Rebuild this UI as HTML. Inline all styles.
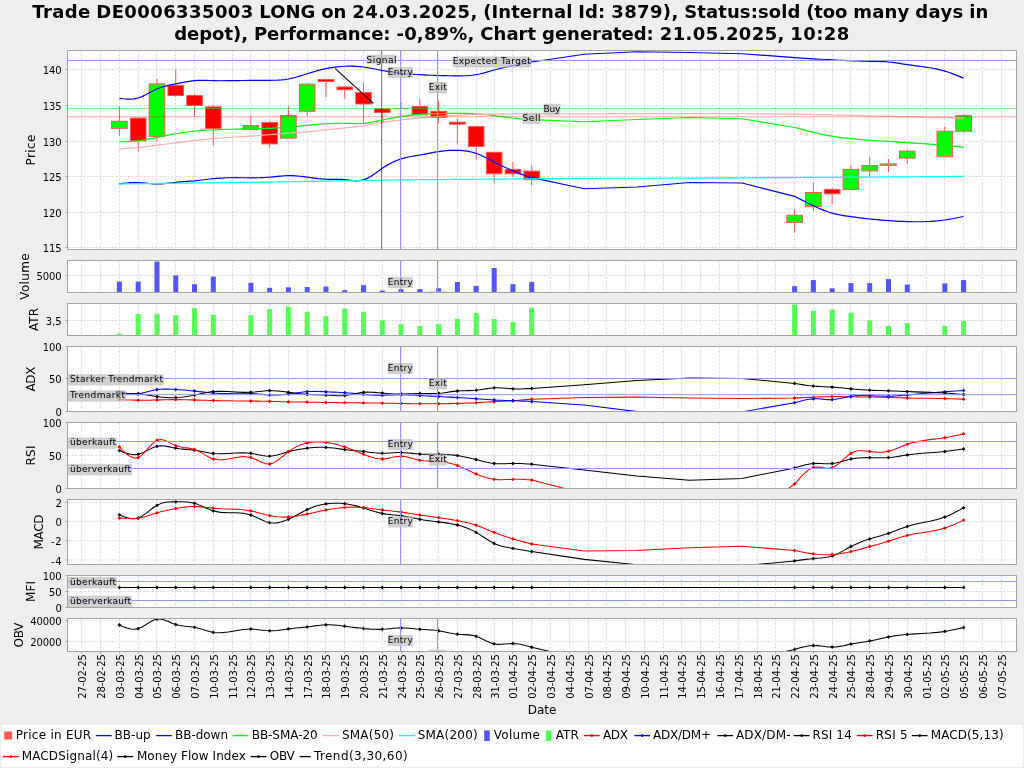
<!DOCTYPE html>
<html lang="de"><head><meta charset="utf-8"><title>Trade DE0006335003 LONG</title>
<style>html,body{margin:0;padding:0;background:#eeeeee;}svg{display:block;}</style></head>
<body>
<svg width="1024" height="768" viewBox="0 0 1024 768" font-family="'DejaVu Sans','Liberation Sans',sans-serif" fill="#000">
<defs>
<clipPath id="c_price"><rect x="67.5" y="50.5" width="949.0" height="199.0"/></clipPath>
<clipPath id="c_vol"><rect x="67.5" y="260.5" width="949.0" height="32.0"/></clipPath>
<clipPath id="c_atr"><rect x="67.5" y="303.5" width="949.0" height="32.0"/></clipPath>
<clipPath id="c_adx"><rect x="67.5" y="346.5" width="949.0" height="65.0"/></clipPath>
<clipPath id="c_rsi"><rect x="67.5" y="422.5" width="949.0" height="66.0"/></clipPath>
<clipPath id="c_macd"><rect x="67.5" y="499.5" width="949.0" height="65.0"/></clipPath>
<clipPath id="c_mfi"><rect x="67.5" y="575.5" width="949.0" height="32.0"/></clipPath>
<clipPath id="c_obv"><rect x="67.5" y="618.5" width="949.0" height="33.0"/></clipPath>
</defs>
<rect width="1024" height="768" fill="#eeeeee"/>
<text x="32.3" y="18" font-size="18" font-weight="bold" textLength="58" lengthAdjust="spacing">Trade</text>
<text x="96.3" y="18" font-size="18" font-weight="bold" textLength="157" lengthAdjust="spacing">DE0006335003</text>
<text x="259.3" y="18" font-size="18" font-weight="bold" textLength="56" lengthAdjust="spacing">LONG</text>
<text x="321.3" y="18" font-size="18" font-weight="bold" textLength="25" lengthAdjust="spacing">on</text>
<text x="352.3" y="18" font-size="18" font-weight="bold" textLength="125" lengthAdjust="spacing">24.03.2025,</text>
<text x="483.3" y="18" font-size="18" font-weight="bold" textLength="89" lengthAdjust="spacing">(Internal</text>
<text x="578.3" y="18" font-size="18" font-weight="bold" textLength="27" lengthAdjust="spacing">Id:</text>
<text x="611.3" y="18" font-size="18" font-weight="bold" textLength="67" lengthAdjust="spacing">3879),</text>
<text x="684.3" y="18" font-size="18" font-weight="bold" textLength="116" lengthAdjust="spacing">Status:sold</text>
<text x="806.3" y="18" font-size="18" font-weight="bold" textLength="41" lengthAdjust="spacing">(too</text>
<text x="853.3" y="18" font-size="18" font-weight="bold" textLength="56" lengthAdjust="spacing">many</text>
<text x="915.3" y="18" font-size="18" font-weight="bold" textLength="48" lengthAdjust="spacing">days</text>
<text x="969.3" y="18" font-size="18" font-weight="bold" textLength="19" lengthAdjust="spacing">in</text>
<text x="174.2" y="40" font-size="18" font-weight="bold" textLength="73.78" lengthAdjust="spacing">depot),</text>
<text x="253.96" y="40" font-size="18" font-weight="bold" textLength="136.6" lengthAdjust="spacing">Performance:</text>
<text x="396.54" y="40" font-size="18" font-weight="bold" textLength="77.77" lengthAdjust="spacing">-0,89%,</text>
<text x="480.29" y="40" font-size="18" font-weight="bold" textLength="55.83" lengthAdjust="spacing">Chart</text>
<text x="542.11" y="40" font-size="18" font-weight="bold" textLength="111.67" lengthAdjust="spacing">generated:</text>
<text x="659.76" y="40" font-size="18" font-weight="bold" textLength="124.63" lengthAdjust="spacing">21.05.2025,</text>
<text x="790.37" y="40" font-size="18" font-weight="bold" textLength="58.83" lengthAdjust="spacing">10:28</text>
<rect x="67.5" y="50.5" width="949.0" height="199.0" fill="#fff"/>
<path d="M81.5 50.5 V249.5 M100.5 50.5 V249.5 M119.5 50.5 V249.5 M138.5 50.5 V249.5 M156.5 50.5 V249.5 M175.5 50.5 V249.5 M194.5 50.5 V249.5 M213.5 50.5 V249.5 M232.5 50.5 V249.5 M250.5 50.5 V249.5 M269.5 50.5 V249.5 M288.5 50.5 V249.5 M307.5 50.5 V249.5 M325.5 50.5 V249.5 M344.5 50.5 V249.5 M363.5 50.5 V249.5 M382.5 50.5 V249.5 M401.5 50.5 V249.5 M419.5 50.5 V249.5 M438.5 50.5 V249.5 M457.5 50.5 V249.5 M476.5 50.5 V249.5 M494.5 50.5 V249.5 M512.5 50.5 V249.5 M531.5 50.5 V249.5 M550.5 50.5 V249.5 M569.5 50.5 V249.5 M588.5 50.5 V249.5 M606.5 50.5 V249.5 M625.5 50.5 V249.5 M644.5 50.5 V249.5 M663.5 50.5 V249.5 M681.5 50.5 V249.5 M700.5 50.5 V249.5 M719.5 50.5 V249.5 M738.5 50.5 V249.5 M757.5 50.5 V249.5 M775.5 50.5 V249.5 M794.5 50.5 V249.5 M813.5 50.5 V249.5 M832.5 50.5 V249.5 M850.5 50.5 V249.5 M869.5 50.5 V249.5 M888.5 50.5 V249.5 M907.5 50.5 V249.5 M926.5 50.5 V249.5 M944.5 50.5 V249.5 M963.5 50.5 V249.5 M982.5 50.5 V249.5 M1001.5 50.5 V249.5 " stroke="#d4d4d4" stroke-width="1" stroke-dasharray="2 2" fill="none"/>
<path d="M67.5 69.5 H1016.5 M67.5 105.5 H1016.5 M67.5 141.5 H1016.5 M67.5 176.5 H1016.5 M67.5 212.5 H1016.5 M67.5 247.5 H1016.5 " stroke="#d4d4d4" stroke-width="1" stroke-dasharray="2 2" fill="none"/>
<g clip-path="url(#c_price)">
<path d="M119.41 106.1 V121.25" stroke="#ff5555" stroke-width="1"/>
<path d="M119.41 128.4 V135.8" stroke="#ff5555" stroke-width="1"/>
<rect x="111.61" y="121.25" width="15.6" height="7.15" fill="#00ff00" stroke="#ff5555" stroke-width="1"/>
<path d="M138.19 140.9 V151.4" stroke="#ff5555" stroke-width="1"/>
<rect x="130.39" y="118.1" width="15.6" height="22.8" fill="#ff0000" stroke="#ff5555" stroke-width="1"/>
<path d="M156.97 79 V83.9" stroke="#ff5555" stroke-width="1"/>
<path d="M156.97 136.6 V141.6" stroke="#ff5555" stroke-width="1"/>
<rect x="149.17" y="83.9" width="15.6" height="52.7" fill="#00ff00" stroke="#ff5555" stroke-width="1"/>
<path d="M175.75 69.4 V85.3" stroke="#ff5555" stroke-width="1"/>
<path d="M175.75 95.5 V97" stroke="#ff5555" stroke-width="1"/>
<rect x="167.94" y="85.3" width="15.6" height="10.2" fill="#ff0000" stroke="#ff5555" stroke-width="1"/>
<path d="M194.52 93.6 V95.5" stroke="#ff5555" stroke-width="1"/>
<path d="M194.52 105.5 V117" stroke="#ff5555" stroke-width="1"/>
<rect x="186.72" y="95.5" width="15.6" height="10" fill="#ff0000" stroke="#ff5555" stroke-width="1"/>
<path d="M213.3 105.3 V106.9" stroke="#ff5555" stroke-width="1"/>
<path d="M213.3 128.4 V145.6" stroke="#ff5555" stroke-width="1"/>
<rect x="205.5" y="106.9" width="15.6" height="21.5" fill="#ff0000" stroke="#ff5555" stroke-width="1"/>
<path d="M250.85 116.25 V125.6" stroke="#ff5555" stroke-width="1"/>
<rect x="243.05" y="125.6" width="15.6" height="3.9" fill="#00ff00" stroke="#ff5555" stroke-width="1"/>
<path d="M269.63 121 V122.5" stroke="#ff5555" stroke-width="1"/>
<path d="M269.63 143.9 V147.2" stroke="#ff5555" stroke-width="1"/>
<rect x="261.83" y="122.5" width="15.6" height="21.4" fill="#ff0000" stroke="#ff5555" stroke-width="1"/>
<path d="M288.41 106.1 V115.6" stroke="#ff5555" stroke-width="1"/>
<rect x="280.61" y="115.6" width="15.6" height="22.5" fill="#00ff00" stroke="#ff5555" stroke-width="1"/>
<path d="M307.18 111.25 V116" stroke="#ff5555" stroke-width="1"/>
<rect x="299.38" y="84.2" width="15.6" height="27.05" fill="#00ff00" stroke="#ff5555" stroke-width="1"/>
<path d="M325.96 81.5 V97.2" stroke="#ff5555" stroke-width="1"/>
<rect x="318.16" y="79.5" width="15.6" height="2" fill="#ff0000" stroke="#ff5555" stroke-width="1"/>
<path d="M344.74 85.8 V87" stroke="#ff5555" stroke-width="1"/>
<path d="M344.74 89.7 V98.75" stroke="#ff5555" stroke-width="1"/>
<rect x="336.94" y="87" width="15.6" height="2.7" fill="#ff0000" stroke="#ff5555" stroke-width="1"/>
<path d="M363.52 82.3 V92.5" stroke="#ff5555" stroke-width="1"/>
<path d="M363.52 104 V124" stroke="#ff5555" stroke-width="1"/>
<rect x="355.72" y="92.5" width="15.6" height="11.5" fill="#ff0000" stroke="#ff5555" stroke-width="1"/>
<path d="M382.29 112.5 V124" stroke="#ff5555" stroke-width="1"/>
<rect x="374.49" y="108.75" width="15.6" height="3.75" fill="#ff0000" stroke="#ff5555" stroke-width="1"/>
<path d="M401.07 102.3 V108.6" stroke="#ff5555" stroke-width="1"/>
<path d="M393.27 108.6 H408.87" stroke="#ff5555" stroke-width="1"/>
<path d="M419.85 98.4 V106.6" stroke="#ff5555" stroke-width="1"/>
<rect x="412.05" y="106.6" width="15.6" height="8.2" fill="#ff0000" stroke="#ff5555" stroke-width="1"/>
<path d="M438.62 100.8 V111.25" stroke="#ff5555" stroke-width="1"/>
<path d="M438.62 117.2 V122.7" stroke="#ff5555" stroke-width="1"/>
<rect x="430.82" y="111.25" width="15.6" height="5.95" fill="#ff0000" stroke="#ff5555" stroke-width="1"/>
<path d="M457.4 118.75 V122.2" stroke="#ff5555" stroke-width="1"/>
<path d="M457.4 124.2 V144.5" stroke="#ff5555" stroke-width="1"/>
<rect x="449.6" y="122.2" width="15.6" height="2" fill="#ff0000" stroke="#ff5555" stroke-width="1"/>
<path d="M476.18 146.5 V159.5" stroke="#ff5555" stroke-width="1"/>
<rect x="468.38" y="126.6" width="15.6" height="19.9" fill="#ff0000" stroke="#ff5555" stroke-width="1"/>
<path d="M494.17 173.75 V182.8" stroke="#ff5555" stroke-width="1"/>
<rect x="486.37" y="152.3" width="15.6" height="21.45" fill="#ff0000" stroke="#ff5555" stroke-width="1"/>
<path d="M512.95 162 V169.4" stroke="#ff5555" stroke-width="1"/>
<path d="M512.95 173.75 V176.9" stroke="#ff5555" stroke-width="1"/>
<rect x="505.15" y="169.4" width="15.6" height="4.35" fill="#ff0000" stroke="#ff5555" stroke-width="1"/>
<path d="M531.73 165.2 V171.1" stroke="#ff5555" stroke-width="1"/>
<path d="M531.73 179.7 V185.5" stroke="#ff5555" stroke-width="1"/>
<rect x="523.93" y="171.1" width="15.6" height="8.6" fill="#ff0000" stroke="#ff5555" stroke-width="1"/>
<path d="M794.6 208.9 V215.2" stroke="#ff5555" stroke-width="1"/>
<path d="M794.6 222.5 V232.8" stroke="#ff5555" stroke-width="1"/>
<rect x="786.8" y="215.2" width="15.6" height="7.3" fill="#00ff00" stroke="#ff5555" stroke-width="1"/>
<path d="M813.38 182.3 V192.5" stroke="#ff5555" stroke-width="1"/>
<path d="M813.38 206.6 V211.25" stroke="#ff5555" stroke-width="1"/>
<rect x="805.58" y="192.5" width="15.6" height="14.1" fill="#00ff00" stroke="#ff5555" stroke-width="1"/>
<path d="M832.16 187.8 V189.4" stroke="#ff5555" stroke-width="1"/>
<path d="M832.16 193.75 V204.2" stroke="#ff5555" stroke-width="1"/>
<rect x="824.36" y="189.4" width="15.6" height="4.35" fill="#ff0000" stroke="#ff5555" stroke-width="1"/>
<path d="M850.93 165.2 V169.4" stroke="#ff5555" stroke-width="1"/>
<rect x="843.13" y="169.4" width="15.6" height="20" fill="#00ff00" stroke="#ff5555" stroke-width="1"/>
<path d="M869.71 156.6 V165.6" stroke="#ff5555" stroke-width="1"/>
<path d="M869.71 170.9 V176.6" stroke="#ff5555" stroke-width="1"/>
<rect x="861.91" y="165.6" width="15.6" height="5.3" fill="#00ff00" stroke="#ff5555" stroke-width="1"/>
<path d="M888.49 158.9 V163.9" stroke="#ff5555" stroke-width="1"/>
<path d="M888.49 165.3 V171.9" stroke="#ff5555" stroke-width="1"/>
<rect x="880.69" y="163.9" width="15.6" height="1.4" fill="#00ff00" stroke="#ff5555" stroke-width="1"/>
<path d="M907.27 149.5 V151.1" stroke="#ff5555" stroke-width="1"/>
<path d="M907.27 158.1 V164" stroke="#ff5555" stroke-width="1"/>
<rect x="899.47" y="151.1" width="15.6" height="7" fill="#00ff00" stroke="#ff5555" stroke-width="1"/>
<path d="M944.82 126.6 V131.25" stroke="#ff5555" stroke-width="1"/>
<rect x="937.02" y="131.25" width="15.6" height="25.45" fill="#00ff00" stroke="#ff5555" stroke-width="1"/>
<path d="M963.6 113.75 V115.6" stroke="#ff5555" stroke-width="1"/>
<path d="M963.6 131.25 V132.8" stroke="#ff5555" stroke-width="1"/>
<rect x="955.8" y="115.6" width="15.6" height="15.65" fill="#00ff00" stroke="#ff5555" stroke-width="1"/>
<path d="M119.41 98.3 L123.17 98.75 L126.92 99.07 L130.68 99.13 L134.44 98.82 L138.19 98 L141.95 96.6 L145.7 94.79 L149.46 92.76 L153.21 90.72 L156.97 88.9 L160.72 87.44 L164.48 86.31 L168.23 85.41 L171.99 84.64 L175.75 83.9 L179.5 83.13 L183.26 82.36 L187.01 81.64 L190.77 81.04 L194.52 80.6 L198.28 80.37 L202.03 80.31 L205.79 80.36 L209.54 80.48 L213.3 80.6 L220.81 80.73 L228.32 80.72 L235.83 80.63 L243.34 80.5 L250.85 80.4 L254.61 80.37 L258.36 80.35 L262.12 80.34 L265.87 80.32 L269.63 80.3 L273.39 80.25 L277.14 80.14 L280.9 79.93 L284.65 79.56 L288.41 79 L292.16 78.21 L295.92 77.24 L299.67 76.13 L303.43 74.95 L307.18 73.75 L310.94 72.58 L314.69 71.45 L318.45 70.4 L322.21 69.45 L325.96 68.6 L329.72 67.88 L333.47 67.29 L337.23 66.82 L340.98 66.48 L344.74 66.25 L348.49 66.14 L352.25 66.16 L356 66.3 L359.76 66.58 L363.52 67 L367.27 67.56 L371.03 68.24 L374.78 68.98 L378.54 69.74 L382.29 70.5 L386.05 71.21 L389.8 71.86 L393.56 72.45 L397.31 72.96 L401.07 73.4 L404.82 73.76 L408.58 74.06 L412.34 74.3 L416.09 74.51 L419.85 74.7 L423.6 74.88 L427.36 75.06 L431.11 75.23 L434.87 75.37 L438.62 75.5 L442.38 75.6 L446.13 75.68 L449.89 75.74 L453.64 75.78 L457.4 75.8 L461.16 75.8 L464.91 75.73 L468.67 75.56 L472.42 75.23 L476.18 74.7 L479.78 73.97 L483.37 73.08 L486.97 72.07 L490.57 71.03 L494.17 70 L497.93 69 L501.68 68.07 L505.44 67.21 L509.19 66.39 L512.95 65.6 L516.7 64.84 L520.46 64.09 L524.21 63.37 L527.97 62.67 L531.73 62 L584.3 54.25 L636.88 51.75 L689.45 52.5 L742.03 53.75 L794.6 57.6 L798.36 57.84 L802.11 58.08 L805.87 58.32 L809.63 58.56 L813.38 58.8 L817.14 59.04 L820.89 59.27 L824.65 59.49 L828.4 59.7 L832.16 59.9 L835.91 60.08 L839.67 60.25 L843.42 60.41 L847.18 60.55 L850.93 60.7 L854.69 60.84 L858.45 60.98 L862.2 61.1 L865.96 61.21 L869.71 61.3 L873.47 61.37 L877.22 61.44 L880.98 61.54 L884.73 61.72 L888.49 62 L892.24 62.4 L896 62.9 L899.75 63.46 L903.51 64.04 L907.27 64.6 L914.78 65.61 L922.29 66.6 L929.8 67.72 L937.31 69.16 L944.82 71.1 L948.58 72.3 L952.33 73.63 L956.09 75.07 L959.84 76.57 L963.6 78.1" fill="none" stroke="#0000ff" stroke-width="1.2" stroke-linejoin="round"/>
<path d="M119.41 183.9 L123.17 183.42 L126.92 183 L130.68 182.67 L134.44 182.49 L138.19 182.5 L141.95 182.73 L145.7 183.1 L149.46 183.51 L153.21 183.84 L156.97 184 L160.72 183.91 L164.48 183.61 L168.23 183.19 L171.99 182.73 L175.75 182.3 L179.5 181.97 L183.26 181.71 L187.01 181.47 L190.77 181.22 L194.52 180.9 L198.28 180.49 L202.03 180.01 L205.79 179.51 L209.54 179.02 L213.3 178.6 L220.81 178.03 L228.32 177.76 L235.83 177.7 L243.34 177.75 L250.85 177.8 L254.61 177.8 L258.36 177.75 L262.12 177.65 L265.87 177.47 L269.63 177.2 L273.39 176.84 L277.14 176.43 L280.9 176.04 L284.65 175.75 L288.41 175.6 L292.16 175.65 L295.92 175.88 L299.67 176.24 L303.43 176.7 L307.18 177.2 L310.94 177.71 L314.69 178.2 L318.45 178.63 L322.21 178.97 L325.96 179.2 L329.72 179.3 L333.47 179.32 L337.23 179.34 L340.98 179.45 L344.74 179.7 L348.49 180.13 L352.25 180.58 L356 180.83 L359.76 180.68 L363.52 179.9 L367.27 178.36 L371.03 176.21 L374.78 173.67 L378.54 170.96 L382.29 168.3 L386.05 165.87 L389.8 163.72 L393.56 161.84 L397.31 160.23 L401.07 158.9 L404.82 157.84 L408.58 156.99 L412.34 156.27 L416.09 155.64 L419.85 155 L423.6 154.32 L427.36 153.6 L431.11 152.89 L434.87 152.21 L438.62 151.6 L442.38 151.09 L446.13 150.7 L449.89 150.43 L453.64 150.29 L457.4 150.3 L461.16 150.47 L464.91 150.82 L468.67 151.41 L472.42 152.25 L476.18 153.4 L479.78 154.8 L483.37 156.43 L486.97 158.22 L490.57 160.1 L494.17 162 L497.93 163.93 L501.68 165.78 L505.44 167.57 L509.19 169.28 L512.95 170.9 L516.7 172.44 L520.46 173.89 L524.21 175.25 L527.97 176.52 L531.73 177.7 L584.3 188.75 L636.88 187 L689.45 182.5 L742.03 183 L794.6 196.4 L798.36 198.23 L802.11 200.13 L805.87 202.05 L809.63 203.96 L813.38 205.8 L817.14 207.54 L820.89 209.16 L824.65 210.63 L828.4 211.95 L832.16 213.1 L835.91 214.07 L839.67 214.88 L843.42 215.56 L847.18 216.16 L850.93 216.7 L854.69 217.21 L858.45 217.7 L862.2 218.16 L865.96 218.6 L869.71 219 L873.47 219.37 L877.22 219.72 L880.98 220.03 L884.73 220.33 L888.49 220.6 L892.24 220.85 L896 221.08 L899.75 221.29 L903.51 221.46 L907.27 221.6 L914.78 221.76 L922.29 221.73 L929.8 221.46 L937.31 220.9 L944.82 220 L948.58 219.41 L952.33 218.75 L956.09 218.03 L959.84 217.28 L963.6 216.5" fill="none" stroke="#0000ff" stroke-width="1.2" stroke-linejoin="round"/>
<path d="M119.41 141.6 L123.17 141.58 L126.92 141.52 L130.68 141.39 L134.44 141.16 L138.19 140.8 L141.95 140.28 L145.7 139.63 L149.46 138.89 L153.21 138.1 L156.97 137.3 L160.72 136.53 L164.48 135.79 L168.23 135.08 L171.99 134.4 L175.75 133.75 L179.5 133.13 L183.26 132.55 L187.01 132.01 L190.77 131.52 L194.52 131.1 L198.28 130.74 L202.03 130.44 L205.79 130.19 L209.54 129.98 L213.3 129.8 L220.81 129.49 L228.32 129.25 L235.83 129.06 L243.34 128.89 L250.85 128.75 L254.61 128.68 L258.36 128.61 L262.12 128.52 L265.87 128.42 L269.63 128.3 L273.39 128.15 L277.14 127.97 L280.9 127.75 L284.65 127.5 L288.41 127.2 L292.16 126.86 L295.92 126.48 L299.67 126.09 L303.43 125.69 L307.18 125.3 L310.94 124.93 L314.69 124.59 L318.45 124.27 L322.21 123.99 L325.96 123.75 L329.72 123.55 L333.47 123.4 L337.23 123.3 L340.98 123.27 L344.74 123.3 L348.49 123.39 L352.25 123.5 L356 123.56 L359.76 123.51 L363.52 123.3 L367.27 122.88 L371.03 122.29 L374.78 121.57 L378.54 120.79 L382.29 120 L386.05 119.24 L389.8 118.51 L393.56 117.83 L397.31 117.2 L401.07 116.6 L404.82 116.05 L408.58 115.55 L412.34 115.1 L416.09 114.72 L419.85 114.4 L423.6 114.15 L427.36 113.96 L431.11 113.81 L434.87 113.7 L438.62 113.6 L442.38 113.51 L446.13 113.44 L449.89 113.37 L453.64 113.33 L457.4 113.3 L461.16 113.3 L464.91 113.33 L468.67 113.41 L472.42 113.55 L476.18 113.75 L479.78 114.02 L483.37 114.35 L486.97 114.73 L490.57 115.15 L494.17 115.6 L497.93 116.09 L501.68 116.58 L505.44 117.08 L509.19 117.55 L512.95 118 L516.7 118.41 L520.46 118.79 L524.21 119.12 L527.97 119.43 L531.73 119.7 L584.3 121.75 L636.88 119.5 L689.45 117.5 L742.03 118.75 L794.6 127.5 L798.36 128.43 L802.11 129.4 L805.87 130.38 L809.63 131.35 L813.38 132.3 L817.14 133.21 L820.89 134.07 L824.65 134.87 L828.4 135.6 L832.16 136.25 L835.91 136.82 L839.67 137.32 L843.42 137.78 L847.18 138.2 L850.93 138.6 L854.69 139 L858.45 139.4 L862.2 139.77 L865.96 140.11 L869.71 140.4 L873.47 140.64 L877.22 140.84 L880.98 141.02 L884.73 141.2 L888.49 141.4 L892.24 141.63 L896 141.89 L899.75 142.16 L903.51 142.43 L907.27 142.7 L914.78 143.2 L922.29 143.66 L929.8 144.14 L937.31 144.67 L944.82 145.3 L948.58 145.66 L952.33 146.05 L956.09 146.45 L959.84 146.87 L963.6 147.3" fill="none" stroke="#00ff00" stroke-width="1.2" stroke-linejoin="round"/>
<path d="M119.41 149 L123.17 148.74 L126.92 148.47 L130.68 148.18 L134.44 147.86 L138.19 147.5 L141.95 147.09 L145.7 146.65 L149.46 146.18 L153.21 145.69 L156.97 145.2 L160.72 144.71 L164.48 144.23 L168.23 143.75 L171.99 143.27 L175.75 142.8 L179.5 142.33 L183.26 141.86 L187.01 141.39 L190.77 140.94 L194.52 140.5 L198.28 140.08 L202.03 139.67 L205.79 139.29 L209.54 138.93 L213.3 138.6 L220.81 138.01 L228.32 137.49 L235.83 137.02 L243.34 136.57 L250.85 136.1 L254.61 135.85 L258.36 135.59 L262.12 135.31 L265.87 135.01 L269.63 134.7 L273.39 134.37 L277.14 134.03 L280.9 133.69 L284.65 133.38 L288.41 133.1 L292.16 132.86 L295.92 132.65 L299.67 132.44 L303.43 132.19 L307.18 131.9 L310.94 131.54 L314.69 131.12 L318.45 130.68 L322.21 130.23 L325.96 129.8 L329.72 129.41 L333.47 129.05 L337.23 128.71 L340.98 128.36 L344.74 128 L348.49 127.6 L352.25 127.17 L356 126.69 L359.76 126.17 L363.52 125.6 L367.27 124.98 L371.03 124.33 L374.78 123.67 L378.54 123.02 L382.29 122.4 L386.05 121.82 L389.8 121.29 L393.56 120.8 L397.31 120.33 L401.07 119.9 L404.82 119.49 L408.58 119.1 L412.34 118.72 L416.09 118.36 L419.85 118 L423.6 117.65 L427.36 117.31 L431.11 116.99 L434.87 116.68 L438.62 116.4 L442.38 116.15 L446.13 115.92 L449.89 115.7 L453.64 115.5 L457.4 115.3 L461.16 115.1 L464.91 114.9 L468.67 114.72 L472.42 114.55 L476.18 114.4 L479.78 114.29 L483.37 114.2 L486.97 114.12 L490.57 114.06 L494.17 114 L497.93 113.94 L501.68 113.88 L505.44 113.83 L509.19 113.78 L512.95 113.75 L516.7 113.73 L520.46 113.73 L524.21 113.73 L527.97 113.74 L531.73 113.75 L584.3 113.78 L636.88 113.68 L689.45 113.6 L742.03 113.72 L794.6 114.2 L798.36 114.25 L802.11 114.31 L805.87 114.37 L809.63 114.43 L813.38 114.5 L817.14 114.58 L820.89 114.65 L824.65 114.74 L828.4 114.82 L832.16 114.9 L835.91 114.98 L839.67 115.05 L843.42 115.13 L847.18 115.21 L850.93 115.3 L854.69 115.39 L858.45 115.49 L862.2 115.59 L865.96 115.7 L869.71 115.8 L873.47 115.9 L877.22 116 L880.98 116.1 L884.73 116.2 L888.49 116.3 L892.24 116.4 L896 116.51 L899.75 116.61 L903.51 116.71 L907.27 116.8 L914.78 116.96 L922.29 117.11 L929.8 117.26 L937.31 117.41 L944.82 117.6 L948.58 117.71 L952.33 117.82 L956.09 117.95 L959.84 118.07 L963.6 118.2" fill="none" stroke="#ffafaf" stroke-width="1.2" stroke-linejoin="round"/>
<path d="M119.41 183.9 L123.17 183.86 L126.92 183.81 L130.68 183.77 L134.44 183.72 L138.19 183.68 L141.95 183.64 L145.7 183.59 L149.46 183.55 L153.21 183.5 L156.97 183.46 L160.72 183.41 L164.48 183.37 L168.23 183.32 L171.99 183.28 L175.75 183.24 L179.5 183.19 L183.26 183.15 L187.01 183.1 L190.77 183.06 L194.52 183.01 L198.28 182.97 L202.03 182.92 L205.79 182.88 L209.54 182.84 L213.3 182.79 L220.81 182.71 L228.32 182.63 L235.83 182.54 L243.34 182.45 L250.85 182.35 L254.61 182.29 L258.36 182.24 L262.12 182.18 L265.87 182.12 L269.63 182.06 L273.39 182 L277.14 181.93 L280.9 181.87 L284.65 181.81 L288.41 181.75 L292.16 181.68 L295.92 181.62 L299.67 181.56 L303.43 181.5 L307.18 181.44 L310.94 181.37 L314.69 181.31 L318.45 181.25 L322.21 181.19 L325.96 181.13 L329.72 181.06 L333.47 181 L337.23 180.94 L340.98 180.88 L344.74 180.81 L348.49 180.75 L352.25 180.69 L356 180.63 L359.76 180.57 L363.52 180.5 L367.27 180.44 L371.03 180.38 L374.78 180.32 L378.54 180.26 L382.29 180.19 L386.05 180.13 L389.8 180.06 L393.56 180 L397.31 179.94 L401.07 179.89 L404.82 179.85 L408.58 179.82 L412.34 179.79 L416.09 179.76 L419.85 179.74 L423.6 179.71 L427.36 179.68 L431.11 179.65 L434.87 179.61 L438.62 179.58 L442.38 179.55 L446.13 179.52 L449.89 179.49 L453.64 179.46 L457.4 179.43 L461.16 179.4 L464.91 179.37 L468.67 179.34 L472.42 179.31 L476.18 179.27 L479.78 179.24 L483.37 179.22 L486.97 179.19 L490.57 179.16 L494.17 179.13 L497.93 179.1 L501.68 179.06 L505.44 179.03 L509.19 179 L512.95 178.97 L516.7 178.94 L520.46 178.91 L524.21 178.88 L527.97 178.85 L531.73 178.82 L584.3 178.47 L636.88 178.23 L689.45 178.03 L742.03 177.82 L794.6 177.54 L798.36 177.51 L802.11 177.49 L805.87 177.46 L809.63 177.43 L813.38 177.41 L817.14 177.38 L820.89 177.36 L824.65 177.33 L828.4 177.31 L832.16 177.28 L835.91 177.26 L839.67 177.23 L843.42 177.21 L847.18 177.18 L850.93 177.16 L854.69 177.13 L858.45 177.11 L862.2 177.08 L865.96 177.06 L869.71 177.03 L873.47 177.01 L877.22 176.98 L880.98 176.96 L884.73 176.93 L888.49 176.91 L892.24 176.88 L896 176.86 L899.75 176.83 L903.51 176.81 L907.27 176.78 L914.78 176.73 L922.29 176.68 L929.8 176.63 L937.31 176.58 L944.82 176.53 L948.58 176.5 L952.33 176.48 L956.09 176.45 L959.84 176.43 L963.6 176.4" fill="none" stroke="#00ffff" stroke-width="1.2" stroke-linejoin="round"/>
<path d="M335.3 68.6 L373.4 103.3" stroke="#000" stroke-width="1.1"/>
<path d="M67.5 60.5 H1016.5" stroke="#9494ff" stroke-width="1"/>
<path d="M67.5 108.5 H1016.5" stroke="rgba(0,255,0,0.5)" stroke-width="1"/>
<path d="M67.5 116.8 H1016.5" stroke="rgba(255,0,0,0.34)" stroke-width="1"/>
<path d="M381.5 50.5 V249.5" stroke="rgba(0,0,0,0.5)" stroke-width="1"/>
<path d="M400.5 50.5 V249.5" stroke="#9494ff" stroke-width="1"/>
<path d="M437.5 50.5 V249.5" stroke="#9494ff" stroke-width="1"/>
<rect x="366.51" y="54.7" width="30" height="9.1" fill="#c0c0c0" fill-opacity="0.75"/>
<text x="366.51" y="62.6" font-size="9" textLength="30" lengthAdjust="spacing">Signal</text>
<rect x="387.79" y="66.9" width="25" height="11.2" fill="#c0c0c0" fill-opacity="0.75"/>
<text x="387.79" y="74.8" font-size="9" textLength="25" lengthAdjust="spacing">Entry</text>
<rect x="428.84" y="82" width="18" height="11.4" fill="#c0c0c0" fill-opacity="0.75"/>
<text x="428.84" y="89.9" font-size="9" textLength="18" lengthAdjust="spacing">Exit</text>
<rect x="452.7" y="56.4" width="78" height="11.2" fill="#c0c0c0" fill-opacity="0.75"/>
<text x="452.7" y="64.3" font-size="9" textLength="78" lengthAdjust="spacing">Expected Target</text>
<rect x="543.4" y="103.8" width="17" height="11.6" fill="#c0c0c0" fill-opacity="0.75"/>
<text x="543.4" y="111.7" font-size="9" textLength="17" lengthAdjust="spacing">Buy</text>
<rect x="522.5" y="112.6" width="18" height="11.5" fill="#c0c0c0" fill-opacity="0.75"/>
<text x="522.5" y="120.5" font-size="9" textLength="18" lengthAdjust="spacing">Sell</text>
</g>
<rect x="67.5" y="50.5" width="949.0" height="199.0" fill="none" stroke="#a4a4a4" stroke-width="1"/>
<path d="M65.5 69.5 H67.5" stroke="#a4a4a4" stroke-width="1"/>
<text x="42.8" y="74.2" font-size="10" textLength="18.9" lengthAdjust="spacing">140</text>
<path d="M65.5 105.5 H67.5" stroke="#a4a4a4" stroke-width="1"/>
<text x="42.8" y="110.2" font-size="10" textLength="18.9" lengthAdjust="spacing">135</text>
<path d="M65.5 141.5 H67.5" stroke="#a4a4a4" stroke-width="1"/>
<text x="42.8" y="146.2" font-size="10" textLength="18.9" lengthAdjust="spacing">130</text>
<path d="M65.5 176.5 H67.5" stroke="#a4a4a4" stroke-width="1"/>
<text x="42.8" y="181.2" font-size="10" textLength="18.9" lengthAdjust="spacing">125</text>
<path d="M65.5 212.5 H67.5" stroke="#a4a4a4" stroke-width="1"/>
<text x="42.8" y="217.2" font-size="10" textLength="18.9" lengthAdjust="spacing">120</text>
<path d="M65.5 247.5 H67.5" stroke="#a4a4a4" stroke-width="1"/>
<text x="42.8" y="252.2" font-size="10" textLength="18.9" lengthAdjust="spacing">115</text>
<text transform="translate(34.6 165.5) rotate(-90)" font-size="12" textLength="31" lengthAdjust="spacing">Price</text>
<rect x="67.5" y="260.5" width="949.0" height="32.0" fill="#fff"/>
<path d="M81.5 260.5 V292.5 M100.5 260.5 V292.5 M119.5 260.5 V292.5 M138.5 260.5 V292.5 M156.5 260.5 V292.5 M175.5 260.5 V292.5 M194.5 260.5 V292.5 M213.5 260.5 V292.5 M232.5 260.5 V292.5 M250.5 260.5 V292.5 M269.5 260.5 V292.5 M288.5 260.5 V292.5 M307.5 260.5 V292.5 M325.5 260.5 V292.5 M344.5 260.5 V292.5 M363.5 260.5 V292.5 M382.5 260.5 V292.5 M401.5 260.5 V292.5 M419.5 260.5 V292.5 M438.5 260.5 V292.5 M457.5 260.5 V292.5 M476.5 260.5 V292.5 M494.5 260.5 V292.5 M512.5 260.5 V292.5 M531.5 260.5 V292.5 M550.5 260.5 V292.5 M569.5 260.5 V292.5 M588.5 260.5 V292.5 M606.5 260.5 V292.5 M625.5 260.5 V292.5 M644.5 260.5 V292.5 M663.5 260.5 V292.5 M681.5 260.5 V292.5 M700.5 260.5 V292.5 M719.5 260.5 V292.5 M738.5 260.5 V292.5 M757.5 260.5 V292.5 M775.5 260.5 V292.5 M794.5 260.5 V292.5 M813.5 260.5 V292.5 M832.5 260.5 V292.5 M850.5 260.5 V292.5 M869.5 260.5 V292.5 M888.5 260.5 V292.5 M907.5 260.5 V292.5 M926.5 260.5 V292.5 M944.5 260.5 V292.5 M963.5 260.5 V292.5 M982.5 260.5 V292.5 M1001.5 260.5 V292.5 " stroke="#d4d4d4" stroke-width="1" stroke-dasharray="2 2" fill="none"/>
<path d="M67.5 275.5 H1016.5 " stroke="#d4d4d4" stroke-width="1" stroke-dasharray="2 2" fill="none"/>
<g clip-path="url(#c_vol)">
<rect x="116.91" y="281.6" width="5" height="10.9" fill="#5555ff"/>
<rect x="135.69" y="281.6" width="5" height="10.9" fill="#5555ff"/>
<rect x="154.47" y="261.6" width="5" height="30.9" fill="#5555ff"/>
<rect x="173.25" y="275.3" width="5" height="17.2" fill="#5555ff"/>
<rect x="192.02" y="284.2" width="5" height="8.3" fill="#5555ff"/>
<rect x="210.8" y="276.6" width="5" height="15.9" fill="#5555ff"/>
<rect x="248.35" y="282.8" width="5" height="9.7" fill="#5555ff"/>
<rect x="267.13" y="287.8" width="5" height="4.7" fill="#5555ff"/>
<rect x="285.91" y="287.3" width="5" height="5.2" fill="#5555ff"/>
<rect x="304.68" y="287" width="5" height="5.5" fill="#5555ff"/>
<rect x="323.46" y="286.6" width="5" height="5.9" fill="#5555ff"/>
<rect x="342.24" y="290.2" width="5" height="2.3" fill="#5555ff"/>
<rect x="361.02" y="285.2" width="5" height="7.3" fill="#5555ff"/>
<rect x="379.79" y="290.6" width="5" height="1.9" fill="#5555ff"/>
<rect x="398.57" y="289.1" width="5" height="3.4" fill="#5555ff"/>
<rect x="417.35" y="289.1" width="5" height="3.4" fill="#5555ff"/>
<rect x="436.12" y="288.3" width="5" height="4.2" fill="#5555ff"/>
<rect x="454.9" y="282" width="5" height="10.5" fill="#5555ff"/>
<rect x="473.68" y="285.9" width="5" height="6.6" fill="#5555ff"/>
<rect x="491.67" y="268" width="5" height="24.5" fill="#5555ff"/>
<rect x="510.45" y="284.2" width="5" height="8.3" fill="#5555ff"/>
<rect x="529.23" y="281.9" width="5" height="10.6" fill="#5555ff"/>
<rect x="792.1" y="286.2" width="5" height="6.3" fill="#5555ff"/>
<rect x="810.88" y="280.1" width="5" height="12.4" fill="#5555ff"/>
<rect x="829.66" y="288.3" width="5" height="4.2" fill="#5555ff"/>
<rect x="848.43" y="283.1" width="5" height="9.4" fill="#5555ff"/>
<rect x="867.21" y="283.1" width="5" height="9.4" fill="#5555ff"/>
<rect x="885.99" y="279.1" width="5" height="13.4" fill="#5555ff"/>
<rect x="904.77" y="284.5" width="5" height="8" fill="#5555ff"/>
<rect x="942.32" y="283.4" width="5" height="9.1" fill="#5555ff"/>
<rect x="961.1" y="280.1" width="5" height="12.4" fill="#5555ff"/>
<path d="M400.5 260.5 V292.5" stroke="#9494ff" stroke-width="1"/>
<path d="M437.5 260.5 V292.5" stroke="#9494ff" stroke-width="1"/>
<rect x="387.79" y="276.9" width="25" height="11.2" fill="#c0c0c0" fill-opacity="0.75"/>
<text x="387.79" y="284.8" font-size="9" textLength="25" lengthAdjust="spacing">Entry</text>
<rect x="428.84" y="291.4" width="18" height="11.4" fill="#c0c0c0" fill-opacity="0.75"/>
<text x="428.84" y="299.3" font-size="9" textLength="18" lengthAdjust="spacing">Exit</text>
</g>
<rect x="67.5" y="260.5" width="949.0" height="32.0" fill="none" stroke="#a4a4a4" stroke-width="1"/>
<path d="M65.5 275.5 H67.5" stroke="#a4a4a4" stroke-width="1"/>
<text x="36.5" y="280.2" font-size="10" textLength="25.2" lengthAdjust="spacing">5000</text>
<text transform="translate(28.9 299.75) rotate(-90)" font-size="12" textLength="46.5" lengthAdjust="spacing">Volume</text>
<rect x="67.5" y="303.5" width="949.0" height="32.0" fill="#fff"/>
<path d="M81.5 303.5 V335.5 M100.5 303.5 V335.5 M119.5 303.5 V335.5 M138.5 303.5 V335.5 M156.5 303.5 V335.5 M175.5 303.5 V335.5 M194.5 303.5 V335.5 M213.5 303.5 V335.5 M232.5 303.5 V335.5 M250.5 303.5 V335.5 M269.5 303.5 V335.5 M288.5 303.5 V335.5 M307.5 303.5 V335.5 M325.5 303.5 V335.5 M344.5 303.5 V335.5 M363.5 303.5 V335.5 M382.5 303.5 V335.5 M401.5 303.5 V335.5 M419.5 303.5 V335.5 M438.5 303.5 V335.5 M457.5 303.5 V335.5 M476.5 303.5 V335.5 M494.5 303.5 V335.5 M512.5 303.5 V335.5 M531.5 303.5 V335.5 M550.5 303.5 V335.5 M569.5 303.5 V335.5 M588.5 303.5 V335.5 M606.5 303.5 V335.5 M625.5 303.5 V335.5 M644.5 303.5 V335.5 M663.5 303.5 V335.5 M681.5 303.5 V335.5 M700.5 303.5 V335.5 M719.5 303.5 V335.5 M738.5 303.5 V335.5 M757.5 303.5 V335.5 M775.5 303.5 V335.5 M794.5 303.5 V335.5 M813.5 303.5 V335.5 M832.5 303.5 V335.5 M850.5 303.5 V335.5 M869.5 303.5 V335.5 M888.5 303.5 V335.5 M907.5 303.5 V335.5 M926.5 303.5 V335.5 M944.5 303.5 V335.5 M963.5 303.5 V335.5 M982.5 303.5 V335.5 M1001.5 303.5 V335.5 " stroke="#d4d4d4" stroke-width="1" stroke-dasharray="2 2" fill="none"/>
<path d="M67.5 320.5 H1016.5 " stroke="#d4d4d4" stroke-width="1" stroke-dasharray="2 2" fill="none"/>
<g clip-path="url(#c_atr)">
<rect x="116.91" y="333.6" width="5" height="1.9" fill="#55ff55"/>
<rect x="135.69" y="314" width="5" height="21.5" fill="#55ff55"/>
<rect x="154.47" y="313.75" width="5" height="21.75" fill="#55ff55"/>
<rect x="173.25" y="315.2" width="5" height="20.3" fill="#55ff55"/>
<rect x="192.02" y="308.1" width="5" height="27.4" fill="#55ff55"/>
<rect x="210.8" y="314.7" width="5" height="20.8" fill="#55ff55"/>
<rect x="248.35" y="315.2" width="5" height="20.3" fill="#55ff55"/>
<rect x="267.13" y="309.2" width="5" height="26.3" fill="#55ff55"/>
<rect x="285.91" y="306.6" width="5" height="28.9" fill="#55ff55"/>
<rect x="304.68" y="311.7" width="5" height="23.8" fill="#55ff55"/>
<rect x="323.46" y="316.25" width="5" height="19.25" fill="#55ff55"/>
<rect x="342.24" y="308.6" width="5" height="26.9" fill="#55ff55"/>
<rect x="361.02" y="311.7" width="5" height="23.8" fill="#55ff55"/>
<rect x="379.79" y="320.3" width="5" height="15.2" fill="#55ff55"/>
<rect x="398.57" y="324.2" width="5" height="11.3" fill="#55ff55"/>
<rect x="417.35" y="326.1" width="5" height="9.4" fill="#55ff55"/>
<rect x="436.12" y="324.2" width="5" height="11.3" fill="#55ff55"/>
<rect x="454.9" y="318.75" width="5" height="16.75" fill="#55ff55"/>
<rect x="473.68" y="313.1" width="5" height="22.4" fill="#55ff55"/>
<rect x="491.67" y="319" width="5" height="16.5" fill="#55ff55"/>
<rect x="510.45" y="321.9" width="5" height="13.6" fill="#55ff55"/>
<rect x="529.23" y="307.7" width="5" height="27.8" fill="#55ff55"/>
<rect x="792.1" y="304.7" width="5" height="30.8" fill="#55ff55"/>
<rect x="810.88" y="310.8" width="5" height="24.7" fill="#55ff55"/>
<rect x="829.66" y="309.6" width="5" height="25.9" fill="#55ff55"/>
<rect x="848.43" y="312.7" width="5" height="22.8" fill="#55ff55"/>
<rect x="867.21" y="320.4" width="5" height="15.1" fill="#55ff55"/>
<rect x="885.99" y="326" width="5" height="9.5" fill="#55ff55"/>
<rect x="904.77" y="323.2" width="5" height="12.3" fill="#55ff55"/>
<rect x="942.32" y="326" width="5" height="9.5" fill="#55ff55"/>
<rect x="961.1" y="320.9" width="5" height="14.6" fill="#55ff55"/>
</g>
<rect x="67.5" y="303.5" width="949.0" height="32.0" fill="none" stroke="#a4a4a4" stroke-width="1"/>
<path d="M65.5 320.5 H67.5" stroke="#a4a4a4" stroke-width="1"/>
<text x="45.8" y="325.2" font-size="10" textLength="15.9" lengthAdjust="spacing">3,5</text>
<text transform="translate(37.9 331) rotate(-90)" font-size="12" textLength="23" lengthAdjust="spacing">ATR</text>
<rect x="67.5" y="346.5" width="949.0" height="65.0" fill="#fff"/>
<path d="M81.5 346.5 V411.5 M100.5 346.5 V411.5 M119.5 346.5 V411.5 M138.5 346.5 V411.5 M156.5 346.5 V411.5 M175.5 346.5 V411.5 M194.5 346.5 V411.5 M213.5 346.5 V411.5 M232.5 346.5 V411.5 M250.5 346.5 V411.5 M269.5 346.5 V411.5 M288.5 346.5 V411.5 M307.5 346.5 V411.5 M325.5 346.5 V411.5 M344.5 346.5 V411.5 M363.5 346.5 V411.5 M382.5 346.5 V411.5 M401.5 346.5 V411.5 M419.5 346.5 V411.5 M438.5 346.5 V411.5 M457.5 346.5 V411.5 M476.5 346.5 V411.5 M494.5 346.5 V411.5 M512.5 346.5 V411.5 M531.5 346.5 V411.5 M550.5 346.5 V411.5 M569.5 346.5 V411.5 M588.5 346.5 V411.5 M606.5 346.5 V411.5 M625.5 346.5 V411.5 M644.5 346.5 V411.5 M663.5 346.5 V411.5 M681.5 346.5 V411.5 M700.5 346.5 V411.5 M719.5 346.5 V411.5 M738.5 346.5 V411.5 M757.5 346.5 V411.5 M775.5 346.5 V411.5 M794.5 346.5 V411.5 M813.5 346.5 V411.5 M832.5 346.5 V411.5 M850.5 346.5 V411.5 M869.5 346.5 V411.5 M888.5 346.5 V411.5 M907.5 346.5 V411.5 M926.5 346.5 V411.5 M944.5 346.5 V411.5 M963.5 346.5 V411.5 M982.5 346.5 V411.5 M1001.5 346.5 V411.5 " stroke="#d4d4d4" stroke-width="1" stroke-dasharray="2 2" fill="none"/>
<path d="M67.5 346.5 H1016.5 M67.5 378.5 H1016.5 M67.5 411.5 H1016.5 " stroke="#d4d4d4" stroke-width="1" stroke-dasharray="2 2" fill="none"/>
<g clip-path="url(#c_adx)">
<path d="M119.41 399.6 L123.17 399.76 L126.92 399.9 L130.68 400.03 L134.44 400.13 L138.19 400.2 L141.95 400.22 L145.7 400.21 L149.46 400.16 L153.21 400.09 L156.97 400 L160.72 399.89 L164.48 399.79 L168.23 399.69 L171.99 399.63 L175.75 399.6 L179.5 399.62 L183.26 399.68 L187.01 399.78 L190.77 399.89 L194.52 400 L198.28 400.11 L202.03 400.22 L205.79 400.32 L209.54 400.41 L213.3 400.5 L220.81 400.67 L228.32 400.81 L235.83 400.94 L243.34 401.03 L250.85 401.1 L254.61 401.12 L258.36 401.14 L262.12 401.17 L265.87 401.22 L269.63 401.3 L273.39 401.41 L277.14 401.54 L280.9 401.67 L284.65 401.8 L288.41 401.9 L292.16 401.97 L295.92 402.01 L299.67 402.03 L303.43 402.06 L307.18 402.1 L310.94 402.16 L314.69 402.25 L318.45 402.33 L322.21 402.42 L325.96 402.5 L329.72 402.56 L333.47 402.6 L337.23 402.64 L340.98 402.67 L344.74 402.7 L348.49 402.74 L352.25 402.78 L356 402.82 L359.76 402.86 L363.52 402.9 L367.27 402.93 L371.03 402.97 L374.78 403 L378.54 403.04 L382.29 403.1 L386.05 403.17 L389.8 403.25 L393.56 403.34 L397.31 403.42 L401.07 403.5 L404.82 403.56 L408.58 403.61 L412.34 403.65 L416.09 403.68 L419.85 403.7 L423.6 403.71 L427.36 403.72 L431.11 403.71 L434.87 403.71 L438.62 403.7 L442.38 403.69 L446.13 403.67 L449.89 403.64 L453.64 403.58 L457.4 403.5 L461.16 403.39 L464.91 403.25 L468.67 403.08 L472.42 402.9 L476.18 402.7 L479.78 402.5 L483.37 402.3 L486.97 402.09 L490.57 401.89 L494.17 401.7 L497.93 401.51 L501.68 401.33 L505.44 401.14 L509.19 400.93 L512.95 400.7 L516.7 400.43 L520.46 400.13 L524.21 399.82 L527.97 399.51 L531.73 399.2 L584.3 397.4 L636.88 397.1 L689.45 398 L742.03 398.6 L794.6 398 L798.36 397.86 L802.11 397.7 L805.87 397.54 L809.63 397.37 L813.38 397.2 L817.14 397.04 L820.89 396.88 L824.65 396.75 L828.4 396.66 L832.16 396.6 L835.91 396.59 L839.67 396.62 L843.42 396.67 L847.18 396.74 L850.93 396.8 L854.69 396.85 L858.45 396.89 L862.2 396.92 L865.96 396.96 L869.71 397 L873.47 397.05 L877.22 397.12 L880.98 397.2 L884.73 397.29 L888.49 397.4 L892.24 397.52 L896 397.65 L899.75 397.77 L903.51 397.89 L907.27 398 L914.78 398.16 L922.29 398.27 L929.8 398.35 L937.31 398.46 L944.82 398.6 L948.58 398.7 L952.33 398.81 L956.09 398.93 L959.84 399.06 L963.6 399.2" fill="none" stroke="#ff0000" stroke-width="1.05" stroke-linejoin="round"/>
<path d="M117.51 399.6 l1.9 -1.9 l1.9 1.9 l-1.9 1.9 z" fill="#ff0000"/>
<path d="M136.29 400.2 l1.9 -1.9 l1.9 1.9 l-1.9 1.9 z" fill="#ff0000"/>
<path d="M155.07 400 l1.9 -1.9 l1.9 1.9 l-1.9 1.9 z" fill="#ff0000"/>
<path d="M173.84 399.6 l1.9 -1.9 l1.9 1.9 l-1.9 1.9 z" fill="#ff0000"/>
<path d="M192.62 400 l1.9 -1.9 l1.9 1.9 l-1.9 1.9 z" fill="#ff0000"/>
<path d="M211.4 400.5 l1.9 -1.9 l1.9 1.9 l-1.9 1.9 z" fill="#ff0000"/>
<path d="M248.95 401.1 l1.9 -1.9 l1.9 1.9 l-1.9 1.9 z" fill="#ff0000"/>
<path d="M267.73 401.3 l1.9 -1.9 l1.9 1.9 l-1.9 1.9 z" fill="#ff0000"/>
<path d="M286.51 401.9 l1.9 -1.9 l1.9 1.9 l-1.9 1.9 z" fill="#ff0000"/>
<path d="M305.28 402.1 l1.9 -1.9 l1.9 1.9 l-1.9 1.9 z" fill="#ff0000"/>
<path d="M324.06 402.5 l1.9 -1.9 l1.9 1.9 l-1.9 1.9 z" fill="#ff0000"/>
<path d="M342.84 402.7 l1.9 -1.9 l1.9 1.9 l-1.9 1.9 z" fill="#ff0000"/>
<path d="M361.62 402.9 l1.9 -1.9 l1.9 1.9 l-1.9 1.9 z" fill="#ff0000"/>
<path d="M380.39 403.1 l1.9 -1.9 l1.9 1.9 l-1.9 1.9 z" fill="#ff0000"/>
<path d="M399.17 403.5 l1.9 -1.9 l1.9 1.9 l-1.9 1.9 z" fill="#ff0000"/>
<path d="M417.95 403.7 l1.9 -1.9 l1.9 1.9 l-1.9 1.9 z" fill="#ff0000"/>
<path d="M436.72 403.7 l1.9 -1.9 l1.9 1.9 l-1.9 1.9 z" fill="#ff0000"/>
<path d="M455.5 403.5 l1.9 -1.9 l1.9 1.9 l-1.9 1.9 z" fill="#ff0000"/>
<path d="M474.28 402.7 l1.9 -1.9 l1.9 1.9 l-1.9 1.9 z" fill="#ff0000"/>
<path d="M492.27 401.7 l1.9 -1.9 l1.9 1.9 l-1.9 1.9 z" fill="#ff0000"/>
<path d="M511.05 400.7 l1.9 -1.9 l1.9 1.9 l-1.9 1.9 z" fill="#ff0000"/>
<path d="M529.83 399.2 l1.9 -1.9 l1.9 1.9 l-1.9 1.9 z" fill="#ff0000"/>
<path d="M792.7 398 l1.9 -1.9 l1.9 1.9 l-1.9 1.9 z" fill="#ff0000"/>
<path d="M811.48 397.2 l1.9 -1.9 l1.9 1.9 l-1.9 1.9 z" fill="#ff0000"/>
<path d="M830.26 396.6 l1.9 -1.9 l1.9 1.9 l-1.9 1.9 z" fill="#ff0000"/>
<path d="M849.03 396.8 l1.9 -1.9 l1.9 1.9 l-1.9 1.9 z" fill="#ff0000"/>
<path d="M867.81 397 l1.9 -1.9 l1.9 1.9 l-1.9 1.9 z" fill="#ff0000"/>
<path d="M886.59 397.4 l1.9 -1.9 l1.9 1.9 l-1.9 1.9 z" fill="#ff0000"/>
<path d="M905.37 398 l1.9 -1.9 l1.9 1.9 l-1.9 1.9 z" fill="#ff0000"/>
<path d="M942.92 398.6 l1.9 -1.9 l1.9 1.9 l-1.9 1.9 z" fill="#ff0000"/>
<path d="M961.7 399.2 l1.9 -1.9 l1.9 1.9 l-1.9 1.9 z" fill="#ff0000"/>
<path d="M119.41 391.8 L123.17 392.54 L126.92 393.19 L130.68 393.66 L134.44 393.86 L138.19 393.7 L141.95 393.13 L145.7 392.27 L149.46 391.29 L153.21 390.34 L156.97 389.6 L160.72 389.18 L164.48 389.05 L168.23 389.13 L171.99 389.34 L175.75 389.6 L179.5 389.85 L183.26 390.09 L187.01 390.35 L190.77 390.65 L194.52 391 L198.28 391.42 L202.03 391.89 L205.79 392.35 L209.54 392.77 L213.3 393.1 L220.81 393.43 L228.32 393.44 L235.83 393.33 L243.34 393.29 L250.85 393.5 L254.61 393.75 L258.36 394.06 L262.12 394.39 L265.87 394.69 L269.63 394.9 L273.39 394.99 L277.14 394.95 L280.9 394.79 L284.65 394.51 L288.41 394.1 L292.16 393.58 L295.92 393.01 L299.67 392.45 L303.43 391.96 L307.18 391.6 L310.94 391.42 L314.69 391.39 L318.45 391.48 L322.21 391.63 L325.96 391.8 L329.72 391.96 L333.47 392.12 L337.23 392.29 L340.98 392.47 L344.74 392.7 L348.49 392.97 L352.25 393.28 L356 393.62 L359.76 393.96 L363.52 394.3 L367.27 394.62 L371.03 394.9 L374.78 395.12 L378.54 395.26 L382.29 395.3 L386.05 395.23 L389.8 395.09 L393.56 394.92 L397.31 394.77 L401.07 394.7 L404.82 394.73 L408.58 394.86 L412.34 395.05 L416.09 395.27 L419.85 395.5 L423.6 395.72 L427.36 395.92 L431.11 396.11 L434.87 396.3 L438.62 396.5 L442.38 396.71 L446.13 396.92 L449.89 397.14 L453.64 397.37 L457.4 397.6 L461.16 397.83 L464.91 398.06 L468.67 398.3 L472.42 398.54 L476.18 398.8 L479.78 399.06 L483.37 399.31 L486.97 399.56 L490.57 399.79 L494.17 400 L497.93 400.18 L501.68 400.33 L505.44 400.46 L509.19 400.58 L512.95 400.7 L516.7 400.83 L520.46 400.98 L524.21 401.13 L527.97 401.31 L531.73 401.5 L584.3 405 L636.88 411.6 L689.45 414 L742.03 411.9 L794.6 402.7 L798.36 401.67 L802.11 400.67 L805.87 399.8 L809.63 399.15 L813.38 398.8 L817.14 398.81 L820.89 399.06 L824.65 399.38 L828.4 399.61 L832.16 399.6 L835.91 399.23 L839.67 398.58 L843.42 397.78 L847.18 396.96 L850.93 396.25 L854.69 395.76 L858.45 395.47 L862.2 395.36 L865.96 395.38 L869.71 395.5 L873.47 395.69 L877.22 395.9 L880.98 396.09 L884.73 396.22 L888.49 396.25 L892.24 396.14 L896 395.92 L899.75 395.62 L903.51 395.27 L907.27 394.9 L914.78 394.2 L922.29 393.55 L929.8 392.95 L937.31 392.37 L944.82 391.8 L948.58 391.52 L952.33 391.24 L956.09 390.96 L959.84 390.68 L963.6 390.4" fill="none" stroke="#0000ff" stroke-width="1.05" stroke-linejoin="round"/>
<path d="M117.51 391.8 l1.9 -1.9 l1.9 1.9 l-1.9 1.9 z" fill="#0000ff"/>
<path d="M136.29 393.7 l1.9 -1.9 l1.9 1.9 l-1.9 1.9 z" fill="#0000ff"/>
<path d="M155.07 389.6 l1.9 -1.9 l1.9 1.9 l-1.9 1.9 z" fill="#0000ff"/>
<path d="M173.84 389.6 l1.9 -1.9 l1.9 1.9 l-1.9 1.9 z" fill="#0000ff"/>
<path d="M192.62 391 l1.9 -1.9 l1.9 1.9 l-1.9 1.9 z" fill="#0000ff"/>
<path d="M211.4 393.1 l1.9 -1.9 l1.9 1.9 l-1.9 1.9 z" fill="#0000ff"/>
<path d="M248.95 393.5 l1.9 -1.9 l1.9 1.9 l-1.9 1.9 z" fill="#0000ff"/>
<path d="M267.73 394.9 l1.9 -1.9 l1.9 1.9 l-1.9 1.9 z" fill="#0000ff"/>
<path d="M286.51 394.1 l1.9 -1.9 l1.9 1.9 l-1.9 1.9 z" fill="#0000ff"/>
<path d="M305.28 391.6 l1.9 -1.9 l1.9 1.9 l-1.9 1.9 z" fill="#0000ff"/>
<path d="M324.06 391.8 l1.9 -1.9 l1.9 1.9 l-1.9 1.9 z" fill="#0000ff"/>
<path d="M342.84 392.7 l1.9 -1.9 l1.9 1.9 l-1.9 1.9 z" fill="#0000ff"/>
<path d="M361.62 394.3 l1.9 -1.9 l1.9 1.9 l-1.9 1.9 z" fill="#0000ff"/>
<path d="M380.39 395.3 l1.9 -1.9 l1.9 1.9 l-1.9 1.9 z" fill="#0000ff"/>
<path d="M399.17 394.7 l1.9 -1.9 l1.9 1.9 l-1.9 1.9 z" fill="#0000ff"/>
<path d="M417.95 395.5 l1.9 -1.9 l1.9 1.9 l-1.9 1.9 z" fill="#0000ff"/>
<path d="M436.72 396.5 l1.9 -1.9 l1.9 1.9 l-1.9 1.9 z" fill="#0000ff"/>
<path d="M455.5 397.6 l1.9 -1.9 l1.9 1.9 l-1.9 1.9 z" fill="#0000ff"/>
<path d="M474.28 398.8 l1.9 -1.9 l1.9 1.9 l-1.9 1.9 z" fill="#0000ff"/>
<path d="M492.27 400 l1.9 -1.9 l1.9 1.9 l-1.9 1.9 z" fill="#0000ff"/>
<path d="M511.05 400.7 l1.9 -1.9 l1.9 1.9 l-1.9 1.9 z" fill="#0000ff"/>
<path d="M529.83 401.5 l1.9 -1.9 l1.9 1.9 l-1.9 1.9 z" fill="#0000ff"/>
<path d="M792.7 402.7 l1.9 -1.9 l1.9 1.9 l-1.9 1.9 z" fill="#0000ff"/>
<path d="M811.48 398.8 l1.9 -1.9 l1.9 1.9 l-1.9 1.9 z" fill="#0000ff"/>
<path d="M830.26 399.6 l1.9 -1.9 l1.9 1.9 l-1.9 1.9 z" fill="#0000ff"/>
<path d="M849.03 396.25 l1.9 -1.9 l1.9 1.9 l-1.9 1.9 z" fill="#0000ff"/>
<path d="M867.81 395.5 l1.9 -1.9 l1.9 1.9 l-1.9 1.9 z" fill="#0000ff"/>
<path d="M886.59 396.25 l1.9 -1.9 l1.9 1.9 l-1.9 1.9 z" fill="#0000ff"/>
<path d="M905.37 394.9 l1.9 -1.9 l1.9 1.9 l-1.9 1.9 z" fill="#0000ff"/>
<path d="M942.92 391.8 l1.9 -1.9 l1.9 1.9 l-1.9 1.9 z" fill="#0000ff"/>
<path d="M961.7 390.4 l1.9 -1.9 l1.9 1.9 l-1.9 1.9 z" fill="#0000ff"/>
<path d="M119.41 394.7 L123.17 394.35 L126.92 394.04 L130.68 393.84 L134.44 393.77 L138.19 393.9 L141.95 394.25 L145.7 394.77 L149.46 395.38 L153.21 396.01 L156.97 396.6 L160.72 397.07 L164.48 397.42 L168.23 397.63 L171.99 397.69 L175.75 397.6 L179.5 397.35 L183.26 396.97 L187.01 396.45 L190.77 395.82 L194.52 395.1 L198.28 394.31 L202.03 393.5 L205.79 392.73 L209.54 392.08 L213.3 391.6 L220.81 391.26 L228.32 391.52 L235.83 392.01 L243.34 392.39 L250.85 392.3 L254.61 392 L258.36 391.58 L262.12 391.15 L265.87 390.79 L269.63 390.6 L273.39 390.65 L277.14 390.9 L280.9 391.3 L284.65 391.78 L288.41 392.3 L292.16 392.8 L295.92 393.26 L299.67 393.67 L303.43 394.02 L307.18 394.3 L310.94 394.5 L314.69 394.65 L318.45 394.78 L322.21 394.92 L325.96 395.1 L329.72 395.34 L333.47 395.58 L337.23 395.74 L340.98 395.74 L344.74 395.5 L348.49 394.98 L352.25 394.27 L356 393.5 L359.76 392.8 L363.52 392.3 L367.27 392.1 L371.03 392.15 L374.78 392.39 L378.54 392.73 L382.29 393.1 L386.05 393.44 L389.8 393.72 L393.56 393.94 L397.31 394.07 L401.07 394.1 L404.82 394.03 L408.58 393.89 L412.34 393.73 L416.09 393.59 L419.85 393.5 L423.6 393.5 L427.36 393.54 L431.11 393.56 L434.87 393.5 L438.62 393.3 L442.38 392.92 L446.13 392.43 L449.89 391.89 L453.64 391.38 L457.4 391 L461.16 390.78 L464.91 390.68 L468.67 390.61 L472.42 390.47 L476.18 390.2 L479.78 389.76 L483.37 389.2 L486.97 388.63 L490.57 388.15 L494.17 387.85 L497.93 387.8 L501.68 387.96 L505.44 388.24 L509.19 388.55 L512.95 388.8 L516.7 388.91 L520.46 388.9 L524.21 388.79 L527.97 388.62 L531.73 388.4 L584.3 384.8 L636.88 380.4 L689.45 378.1 L742.03 378.4 L794.6 383.4 L798.36 384 L802.11 384.61 L805.87 385.18 L809.63 385.69 L813.38 386.1 L817.14 386.39 L820.89 386.6 L824.65 386.75 L828.4 386.91 L832.16 387.1 L835.91 387.36 L839.67 387.69 L843.42 388.05 L847.18 388.43 L850.93 388.8 L854.69 389.15 L858.45 389.47 L862.2 389.75 L865.96 390 L869.71 390.2 L873.47 390.36 L877.22 390.48 L880.98 390.58 L884.73 390.68 L888.49 390.8 L892.24 390.94 L896 391.1 L899.75 391.27 L903.51 391.44 L907.27 391.6 L914.78 391.88 L922.29 392.13 L929.8 392.39 L937.31 392.7 L944.82 393.1 L948.58 393.34 L952.33 393.61 L956.09 393.9 L959.84 394.19 L963.6 394.5" fill="none" stroke="#000000" stroke-width="1.05" stroke-linejoin="round"/>
<path d="M117.51 394.7 l1.9 -1.9 l1.9 1.9 l-1.9 1.9 z" fill="#000000"/>
<path d="M136.29 393.9 l1.9 -1.9 l1.9 1.9 l-1.9 1.9 z" fill="#000000"/>
<path d="M155.07 396.6 l1.9 -1.9 l1.9 1.9 l-1.9 1.9 z" fill="#000000"/>
<path d="M173.84 397.6 l1.9 -1.9 l1.9 1.9 l-1.9 1.9 z" fill="#000000"/>
<path d="M192.62 395.1 l1.9 -1.9 l1.9 1.9 l-1.9 1.9 z" fill="#000000"/>
<path d="M211.4 391.6 l1.9 -1.9 l1.9 1.9 l-1.9 1.9 z" fill="#000000"/>
<path d="M248.95 392.3 l1.9 -1.9 l1.9 1.9 l-1.9 1.9 z" fill="#000000"/>
<path d="M267.73 390.6 l1.9 -1.9 l1.9 1.9 l-1.9 1.9 z" fill="#000000"/>
<path d="M286.51 392.3 l1.9 -1.9 l1.9 1.9 l-1.9 1.9 z" fill="#000000"/>
<path d="M305.28 394.3 l1.9 -1.9 l1.9 1.9 l-1.9 1.9 z" fill="#000000"/>
<path d="M324.06 395.1 l1.9 -1.9 l1.9 1.9 l-1.9 1.9 z" fill="#000000"/>
<path d="M342.84 395.5 l1.9 -1.9 l1.9 1.9 l-1.9 1.9 z" fill="#000000"/>
<path d="M361.62 392.3 l1.9 -1.9 l1.9 1.9 l-1.9 1.9 z" fill="#000000"/>
<path d="M380.39 393.1 l1.9 -1.9 l1.9 1.9 l-1.9 1.9 z" fill="#000000"/>
<path d="M399.17 394.1 l1.9 -1.9 l1.9 1.9 l-1.9 1.9 z" fill="#000000"/>
<path d="M417.95 393.5 l1.9 -1.9 l1.9 1.9 l-1.9 1.9 z" fill="#000000"/>
<path d="M436.72 393.3 l1.9 -1.9 l1.9 1.9 l-1.9 1.9 z" fill="#000000"/>
<path d="M455.5 391 l1.9 -1.9 l1.9 1.9 l-1.9 1.9 z" fill="#000000"/>
<path d="M474.28 390.2 l1.9 -1.9 l1.9 1.9 l-1.9 1.9 z" fill="#000000"/>
<path d="M492.27 387.85 l1.9 -1.9 l1.9 1.9 l-1.9 1.9 z" fill="#000000"/>
<path d="M511.05 388.8 l1.9 -1.9 l1.9 1.9 l-1.9 1.9 z" fill="#000000"/>
<path d="M529.83 388.4 l1.9 -1.9 l1.9 1.9 l-1.9 1.9 z" fill="#000000"/>
<path d="M792.7 383.4 l1.9 -1.9 l1.9 1.9 l-1.9 1.9 z" fill="#000000"/>
<path d="M811.48 386.1 l1.9 -1.9 l1.9 1.9 l-1.9 1.9 z" fill="#000000"/>
<path d="M830.26 387.1 l1.9 -1.9 l1.9 1.9 l-1.9 1.9 z" fill="#000000"/>
<path d="M849.03 388.8 l1.9 -1.9 l1.9 1.9 l-1.9 1.9 z" fill="#000000"/>
<path d="M867.81 390.2 l1.9 -1.9 l1.9 1.9 l-1.9 1.9 z" fill="#000000"/>
<path d="M886.59 390.8 l1.9 -1.9 l1.9 1.9 l-1.9 1.9 z" fill="#000000"/>
<path d="M905.37 391.6 l1.9 -1.9 l1.9 1.9 l-1.9 1.9 z" fill="#000000"/>
<path d="M942.92 393.1 l1.9 -1.9 l1.9 1.9 l-1.9 1.9 z" fill="#000000"/>
<path d="M961.7 394.5 l1.9 -1.9 l1.9 1.9 l-1.9 1.9 z" fill="#000000"/>
<path d="M67.5 378.5 H1016.5" stroke="#9494ff" stroke-width="1"/>
<path d="M67.5 394.7 H1016.5" stroke="#9494ff" stroke-width="1"/>
<path d="M400.5 346.5 V411.5" stroke="#9494ff" stroke-width="1"/>
<path d="M437.5 346.5 V411.5" stroke="#9494ff" stroke-width="1"/>
<rect x="67.5" y="374.2" width="96.3" height="11.3" fill="#c0c0c0" fill-opacity="0.75"/>
<text x="70" y="382.1" font-size="9" textLength="93" lengthAdjust="spacing">Starker Trendmarkt</text>
<rect x="67.5" y="390.4" width="58.3" height="11.3" fill="#c0c0c0" fill-opacity="0.75"/>
<text x="70" y="398.3" font-size="9" textLength="55" lengthAdjust="spacing">Trendmarkt</text>
<rect x="387.79" y="363" width="25" height="11.2" fill="#c0c0c0" fill-opacity="0.75"/>
<text x="387.79" y="370.9" font-size="9" textLength="25" lengthAdjust="spacing">Entry</text>
<rect x="428.84" y="378.3" width="18" height="11.2" fill="#c0c0c0" fill-opacity="0.75"/>
<text x="428.84" y="386.2" font-size="9" textLength="18" lengthAdjust="spacing">Exit</text>
</g>
<rect x="67.5" y="346.5" width="949.0" height="65.0" fill="none" stroke="#a4a4a4" stroke-width="1"/>
<path d="M65.5 346.5 H67.5" stroke="#a4a4a4" stroke-width="1"/>
<text x="42.8" y="351.2" font-size="10" textLength="18.9" lengthAdjust="spacing">100</text>
<path d="M65.5 378.5 H67.5" stroke="#a4a4a4" stroke-width="1"/>
<text x="49.1" y="383.2" font-size="10" textLength="12.6" lengthAdjust="spacing">50</text>
<path d="M65.5 411.5 H67.5" stroke="#a4a4a4" stroke-width="1"/>
<text x="55.4" y="416.2" font-size="10" textLength="6.3" lengthAdjust="spacing">0</text>
<text transform="translate(34.6 391.5) rotate(-90)" font-size="12" textLength="25" lengthAdjust="spacing">ADX</text>
<rect x="67.5" y="422.5" width="949.0" height="66.0" fill="#fff"/>
<path d="M81.5 422.5 V488.5 M100.5 422.5 V488.5 M119.5 422.5 V488.5 M138.5 422.5 V488.5 M156.5 422.5 V488.5 M175.5 422.5 V488.5 M194.5 422.5 V488.5 M213.5 422.5 V488.5 M232.5 422.5 V488.5 M250.5 422.5 V488.5 M269.5 422.5 V488.5 M288.5 422.5 V488.5 M307.5 422.5 V488.5 M325.5 422.5 V488.5 M344.5 422.5 V488.5 M363.5 422.5 V488.5 M382.5 422.5 V488.5 M401.5 422.5 V488.5 M419.5 422.5 V488.5 M438.5 422.5 V488.5 M457.5 422.5 V488.5 M476.5 422.5 V488.5 M494.5 422.5 V488.5 M512.5 422.5 V488.5 M531.5 422.5 V488.5 M550.5 422.5 V488.5 M569.5 422.5 V488.5 M588.5 422.5 V488.5 M606.5 422.5 V488.5 M625.5 422.5 V488.5 M644.5 422.5 V488.5 M663.5 422.5 V488.5 M681.5 422.5 V488.5 M700.5 422.5 V488.5 M719.5 422.5 V488.5 M738.5 422.5 V488.5 M757.5 422.5 V488.5 M775.5 422.5 V488.5 M794.5 422.5 V488.5 M813.5 422.5 V488.5 M832.5 422.5 V488.5 M850.5 422.5 V488.5 M869.5 422.5 V488.5 M888.5 422.5 V488.5 M907.5 422.5 V488.5 M926.5 422.5 V488.5 M944.5 422.5 V488.5 M963.5 422.5 V488.5 M982.5 422.5 V488.5 M1001.5 422.5 V488.5 " stroke="#d4d4d4" stroke-width="1" stroke-dasharray="2 2" fill="none"/>
<path d="M67.5 422.5 H1016.5 M67.5 455.5 H1016.5 M67.5 488.5 H1016.5 " stroke="#d4d4d4" stroke-width="1" stroke-dasharray="2 2" fill="none"/>
<g clip-path="url(#c_rsi)">
<path d="M119.41 450.6 L123.17 452.08 L126.92 453.38 L130.68 454.3 L134.44 454.67 L138.19 454.3 L141.95 453.1 L145.7 451.33 L149.46 449.37 L153.21 447.57 L156.97 446.3 L160.72 445.83 L164.48 446.01 L168.23 446.62 L171.99 447.43 L175.75 448.2 L179.5 448.75 L183.26 449.13 L187.01 449.44 L190.77 449.76 L194.52 450.2 L198.28 450.82 L202.03 451.56 L205.79 452.32 L209.54 453 L213.3 453.5 L220.81 453.8 L228.32 453.46 L235.83 452.96 L243.34 452.75 L250.85 453.3 L254.61 453.97 L258.36 454.76 L262.12 455.52 L265.87 456.06 L269.63 456.2 L273.39 455.83 L277.14 455.05 L280.9 454 L284.65 452.83 L288.41 451.7 L292.16 450.72 L295.92 449.91 L299.67 449.23 L303.43 448.67 L307.18 448.2 L310.94 447.81 L314.69 447.51 L318.45 447.33 L322.21 447.28 L325.96 447.4 L329.72 447.69 L333.47 448.1 L337.23 448.6 L340.98 449.11 L344.74 449.6 L348.49 450.02 L352.25 450.39 L356 450.74 L359.76 451.1 L363.52 451.5 L367.27 451.96 L371.03 452.43 L374.78 452.85 L378.54 453.16 L382.29 453.3 L386.05 453.23 L389.8 453.02 L393.56 452.76 L397.31 452.56 L401.07 452.5 L404.82 452.66 L408.58 452.98 L412.34 453.38 L416.09 453.78 L419.85 454.1 L423.6 454.28 L427.36 454.34 L431.11 454.33 L434.87 454.3 L438.62 454.3 L442.38 454.37 L446.13 454.52 L449.89 454.76 L453.64 455.12 L457.4 455.6 L461.16 456.21 L464.91 456.93 L468.67 457.75 L472.42 458.64 L476.18 459.6 L479.78 460.55 L483.37 461.47 L486.97 462.31 L490.57 463.01 L494.17 463.5 L497.93 463.76 L501.68 463.81 L505.44 463.73 L509.19 463.6 L512.95 463.5 L516.7 463.49 L520.46 463.58 L524.21 463.73 L527.97 463.95 L531.73 464.2 L584.3 469.9 L636.88 476 L689.45 480.2 L742.03 478.4 L794.6 468 L798.36 466.86 L802.11 465.75 L805.87 464.75 L809.63 463.98 L813.38 463.5 L817.14 463.38 L820.89 463.48 L824.65 463.65 L828.4 463.71 L832.16 463.5 L835.91 462.9 L839.67 462.01 L843.42 460.97 L847.18 459.92 L850.93 459 L854.69 458.33 L858.45 457.9 L862.2 457.67 L865.96 457.58 L869.71 457.6 L873.47 457.68 L877.22 457.78 L880.98 457.83 L884.73 457.79 L888.49 457.6 L892.24 457.23 L896 456.71 L899.75 456.11 L903.51 455.49 L907.27 454.9 L914.78 453.97 L922.29 453.29 L929.8 452.74 L937.31 452.18 L944.82 451.5 L948.58 451.08 L952.33 450.6 L956.09 450.09 L959.84 449.55 L963.6 449" fill="none" stroke="#000000" stroke-width="1.05" stroke-linejoin="round"/>
<path d="M117.51 450.6 l1.9 -1.9 l1.9 1.9 l-1.9 1.9 z" fill="#000000"/>
<path d="M136.29 454.3 l1.9 -1.9 l1.9 1.9 l-1.9 1.9 z" fill="#000000"/>
<path d="M155.07 446.3 l1.9 -1.9 l1.9 1.9 l-1.9 1.9 z" fill="#000000"/>
<path d="M173.84 448.2 l1.9 -1.9 l1.9 1.9 l-1.9 1.9 z" fill="#000000"/>
<path d="M192.62 450.2 l1.9 -1.9 l1.9 1.9 l-1.9 1.9 z" fill="#000000"/>
<path d="M211.4 453.5 l1.9 -1.9 l1.9 1.9 l-1.9 1.9 z" fill="#000000"/>
<path d="M248.95 453.3 l1.9 -1.9 l1.9 1.9 l-1.9 1.9 z" fill="#000000"/>
<path d="M267.73 456.2 l1.9 -1.9 l1.9 1.9 l-1.9 1.9 z" fill="#000000"/>
<path d="M286.51 451.7 l1.9 -1.9 l1.9 1.9 l-1.9 1.9 z" fill="#000000"/>
<path d="M305.28 448.2 l1.9 -1.9 l1.9 1.9 l-1.9 1.9 z" fill="#000000"/>
<path d="M324.06 447.4 l1.9 -1.9 l1.9 1.9 l-1.9 1.9 z" fill="#000000"/>
<path d="M342.84 449.6 l1.9 -1.9 l1.9 1.9 l-1.9 1.9 z" fill="#000000"/>
<path d="M361.62 451.5 l1.9 -1.9 l1.9 1.9 l-1.9 1.9 z" fill="#000000"/>
<path d="M380.39 453.3 l1.9 -1.9 l1.9 1.9 l-1.9 1.9 z" fill="#000000"/>
<path d="M399.17 452.5 l1.9 -1.9 l1.9 1.9 l-1.9 1.9 z" fill="#000000"/>
<path d="M417.95 454.1 l1.9 -1.9 l1.9 1.9 l-1.9 1.9 z" fill="#000000"/>
<path d="M436.72 454.3 l1.9 -1.9 l1.9 1.9 l-1.9 1.9 z" fill="#000000"/>
<path d="M455.5 455.6 l1.9 -1.9 l1.9 1.9 l-1.9 1.9 z" fill="#000000"/>
<path d="M474.28 459.6 l1.9 -1.9 l1.9 1.9 l-1.9 1.9 z" fill="#000000"/>
<path d="M492.27 463.5 l1.9 -1.9 l1.9 1.9 l-1.9 1.9 z" fill="#000000"/>
<path d="M511.05 463.5 l1.9 -1.9 l1.9 1.9 l-1.9 1.9 z" fill="#000000"/>
<path d="M529.83 464.2 l1.9 -1.9 l1.9 1.9 l-1.9 1.9 z" fill="#000000"/>
<path d="M792.7 468 l1.9 -1.9 l1.9 1.9 l-1.9 1.9 z" fill="#000000"/>
<path d="M811.48 463.5 l1.9 -1.9 l1.9 1.9 l-1.9 1.9 z" fill="#000000"/>
<path d="M830.26 463.5 l1.9 -1.9 l1.9 1.9 l-1.9 1.9 z" fill="#000000"/>
<path d="M849.03 459 l1.9 -1.9 l1.9 1.9 l-1.9 1.9 z" fill="#000000"/>
<path d="M867.81 457.6 l1.9 -1.9 l1.9 1.9 l-1.9 1.9 z" fill="#000000"/>
<path d="M886.59 457.6 l1.9 -1.9 l1.9 1.9 l-1.9 1.9 z" fill="#000000"/>
<path d="M905.37 454.9 l1.9 -1.9 l1.9 1.9 l-1.9 1.9 z" fill="#000000"/>
<path d="M942.92 451.5 l1.9 -1.9 l1.9 1.9 l-1.9 1.9 z" fill="#000000"/>
<path d="M961.7 449 l1.9 -1.9 l1.9 1.9 l-1.9 1.9 z" fill="#000000"/>
<path d="M119.41 446.9 L123.17 450.82 L126.92 454.29 L130.68 456.87 L134.44 458.12 L138.19 457.6 L141.95 455.07 L145.7 451.2 L149.46 446.85 L153.21 442.89 L156.97 440.2 L160.72 439.4 L164.48 440.15 L168.23 441.84 L171.99 443.89 L175.75 445.7 L179.5 446.83 L183.26 447.44 L187.01 447.86 L190.77 448.41 L194.52 449.4 L198.28 451.05 L202.03 453.15 L205.79 455.39 L209.54 457.44 L213.3 459 L220.81 459.99 L228.32 459.03 L235.83 457.41 L243.34 456.43 L250.85 457.4 L254.61 458.92 L258.36 460.79 L262.12 462.56 L265.87 463.79 L269.63 464 L273.39 462.89 L277.14 460.72 L280.9 457.86 L284.65 454.73 L288.41 451.7 L292.16 449.11 L295.92 446.98 L299.67 445.28 L303.43 443.96 L307.18 443 L310.94 442.35 L314.69 441.99 L318.45 441.89 L322.21 442.04 L325.96 442.4 L329.72 442.96 L333.47 443.7 L337.23 444.61 L340.98 445.68 L344.74 446.9 L348.49 448.25 L352.25 449.7 L356 451.22 L359.76 452.76 L363.52 454.3 L367.27 455.78 L371.03 457.1 L374.78 458.15 L378.54 458.82 L382.29 459 L386.05 458.63 L389.8 457.91 L393.56 457.1 L397.31 456.44 L401.07 456.2 L404.82 456.55 L408.58 457.35 L412.34 458.39 L416.09 459.44 L419.85 460.3 L423.6 460.8 L427.36 461.02 L431.11 461.09 L434.87 461.14 L438.62 461.3 L442.38 461.69 L446.13 462.31 L449.89 463.18 L453.64 464.28 L457.4 465.6 L461.16 467.13 L464.91 468.82 L468.67 470.57 L472.42 472.32 L476.18 474 L479.78 475.47 L483.37 476.77 L486.97 477.86 L490.57 478.71 L494.17 479.3 L497.93 479.61 L501.68 479.68 L505.44 479.59 L509.19 479.44 L512.95 479.3 L516.7 479.25 L520.46 479.31 L524.21 479.47 L527.97 479.74 L531.73 480.1 L584.3 493.53 L636.88 513.59 L689.45 527.32 L742.03 521.77 L794.6 484 L798.36 479.78 L802.11 475.68 L805.87 472.02 L809.63 469.15 L813.38 467.4 L817.14 466.96 L820.89 467.39 L824.65 468.07 L828.4 468.41 L832.16 467.8 L835.91 465.83 L839.67 462.84 L843.42 459.4 L847.18 456.03 L850.93 453.3 L854.69 451.61 L858.45 450.83 L862.2 450.73 L865.96 451.03 L869.71 451.5 L873.47 451.9 L877.22 452.14 L880.98 452.15 L884.73 451.86 L888.49 451.2 L892.24 450.14 L896 448.78 L899.75 447.27 L903.51 445.73 L907.27 444.3 L914.78 442.11 L922.29 440.65 L929.8 439.62 L937.31 438.73 L944.82 437.7 L948.58 437.05 L952.33 436.31 L956.09 435.51 L959.84 434.67 L963.6 433.8" fill="none" stroke="#ff0000" stroke-width="1.05" stroke-linejoin="round"/>
<path d="M117.51 446.9 l1.9 -1.9 l1.9 1.9 l-1.9 1.9 z" fill="#ff0000"/>
<path d="M136.29 457.6 l1.9 -1.9 l1.9 1.9 l-1.9 1.9 z" fill="#ff0000"/>
<path d="M155.07 440.2 l1.9 -1.9 l1.9 1.9 l-1.9 1.9 z" fill="#ff0000"/>
<path d="M173.84 445.7 l1.9 -1.9 l1.9 1.9 l-1.9 1.9 z" fill="#ff0000"/>
<path d="M192.62 449.4 l1.9 -1.9 l1.9 1.9 l-1.9 1.9 z" fill="#ff0000"/>
<path d="M211.4 459 l1.9 -1.9 l1.9 1.9 l-1.9 1.9 z" fill="#ff0000"/>
<path d="M248.95 457.4 l1.9 -1.9 l1.9 1.9 l-1.9 1.9 z" fill="#ff0000"/>
<path d="M267.73 464 l1.9 -1.9 l1.9 1.9 l-1.9 1.9 z" fill="#ff0000"/>
<path d="M286.51 451.7 l1.9 -1.9 l1.9 1.9 l-1.9 1.9 z" fill="#ff0000"/>
<path d="M305.28 443 l1.9 -1.9 l1.9 1.9 l-1.9 1.9 z" fill="#ff0000"/>
<path d="M324.06 442.4 l1.9 -1.9 l1.9 1.9 l-1.9 1.9 z" fill="#ff0000"/>
<path d="M342.84 446.9 l1.9 -1.9 l1.9 1.9 l-1.9 1.9 z" fill="#ff0000"/>
<path d="M361.62 454.3 l1.9 -1.9 l1.9 1.9 l-1.9 1.9 z" fill="#ff0000"/>
<path d="M380.39 459 l1.9 -1.9 l1.9 1.9 l-1.9 1.9 z" fill="#ff0000"/>
<path d="M399.17 456.2 l1.9 -1.9 l1.9 1.9 l-1.9 1.9 z" fill="#ff0000"/>
<path d="M417.95 460.3 l1.9 -1.9 l1.9 1.9 l-1.9 1.9 z" fill="#ff0000"/>
<path d="M436.72 461.3 l1.9 -1.9 l1.9 1.9 l-1.9 1.9 z" fill="#ff0000"/>
<path d="M455.5 465.6 l1.9 -1.9 l1.9 1.9 l-1.9 1.9 z" fill="#ff0000"/>
<path d="M474.28 474 l1.9 -1.9 l1.9 1.9 l-1.9 1.9 z" fill="#ff0000"/>
<path d="M492.27 479.3 l1.9 -1.9 l1.9 1.9 l-1.9 1.9 z" fill="#ff0000"/>
<path d="M511.05 479.3 l1.9 -1.9 l1.9 1.9 l-1.9 1.9 z" fill="#ff0000"/>
<path d="M529.83 480.1 l1.9 -1.9 l1.9 1.9 l-1.9 1.9 z" fill="#ff0000"/>
<path d="M792.7 484 l1.9 -1.9 l1.9 1.9 l-1.9 1.9 z" fill="#ff0000"/>
<path d="M811.48 467.4 l1.9 -1.9 l1.9 1.9 l-1.9 1.9 z" fill="#ff0000"/>
<path d="M830.26 467.8 l1.9 -1.9 l1.9 1.9 l-1.9 1.9 z" fill="#ff0000"/>
<path d="M849.03 453.3 l1.9 -1.9 l1.9 1.9 l-1.9 1.9 z" fill="#ff0000"/>
<path d="M867.81 451.5 l1.9 -1.9 l1.9 1.9 l-1.9 1.9 z" fill="#ff0000"/>
<path d="M886.59 451.2 l1.9 -1.9 l1.9 1.9 l-1.9 1.9 z" fill="#ff0000"/>
<path d="M905.37 444.3 l1.9 -1.9 l1.9 1.9 l-1.9 1.9 z" fill="#ff0000"/>
<path d="M942.92 437.7 l1.9 -1.9 l1.9 1.9 l-1.9 1.9 z" fill="#ff0000"/>
<path d="M961.7 433.8 l1.9 -1.9 l1.9 1.9 l-1.9 1.9 z" fill="#ff0000"/>
<path d="M67.5 441.5 H1016.5" stroke="#9494ff" stroke-width="1"/>
<path d="M67.5 468.5 H1016.5" stroke="#9494ff" stroke-width="1"/>
<path d="M400.5 422.5 V488.5" stroke="#9494ff" stroke-width="1"/>
<path d="M437.5 422.5 V488.5" stroke="#9494ff" stroke-width="1"/>
<rect x="67.5" y="437.5" width="49.3" height="11.3" fill="#c0c0c0" fill-opacity="0.75"/>
<text x="70" y="445.4" font-size="9" textLength="46" lengthAdjust="spacing">überkauft</text>
<rect x="67.5" y="463.9" width="64.3" height="11.4" fill="#c0c0c0" fill-opacity="0.75"/>
<text x="70" y="471.8" font-size="9" textLength="61" lengthAdjust="spacing">überverkauft</text>
<rect x="387.79" y="439" width="25" height="11.2" fill="#c0c0c0" fill-opacity="0.75"/>
<text x="387.79" y="446.9" font-size="9" textLength="25" lengthAdjust="spacing">Entry</text>
<rect x="428.84" y="454.3" width="18" height="11.2" fill="#c0c0c0" fill-opacity="0.75"/>
<text x="428.84" y="462.2" font-size="9" textLength="18" lengthAdjust="spacing">Exit</text>
</g>
<rect x="67.5" y="422.5" width="949.0" height="66.0" fill="none" stroke="#a4a4a4" stroke-width="1"/>
<path d="M65.5 422.5 H67.5" stroke="#a4a4a4" stroke-width="1"/>
<text x="42.8" y="427.2" font-size="10" textLength="18.9" lengthAdjust="spacing">100</text>
<path d="M65.5 455.5 H67.5" stroke="#a4a4a4" stroke-width="1"/>
<text x="49.1" y="460.2" font-size="10" textLength="12.6" lengthAdjust="spacing">50</text>
<path d="M65.5 488.5 H67.5" stroke="#a4a4a4" stroke-width="1"/>
<text x="55.4" y="493.2" font-size="10" textLength="6.3" lengthAdjust="spacing">0</text>
<text transform="translate(34.6 465.5) rotate(-90)" font-size="12" textLength="20" lengthAdjust="spacing">RSI</text>
<rect x="67.5" y="499.5" width="949.0" height="65.0" fill="#fff"/>
<path d="M81.5 499.5 V564.5 M100.5 499.5 V564.5 M119.5 499.5 V564.5 M138.5 499.5 V564.5 M156.5 499.5 V564.5 M175.5 499.5 V564.5 M194.5 499.5 V564.5 M213.5 499.5 V564.5 M232.5 499.5 V564.5 M250.5 499.5 V564.5 M269.5 499.5 V564.5 M288.5 499.5 V564.5 M307.5 499.5 V564.5 M325.5 499.5 V564.5 M344.5 499.5 V564.5 M363.5 499.5 V564.5 M382.5 499.5 V564.5 M401.5 499.5 V564.5 M419.5 499.5 V564.5 M438.5 499.5 V564.5 M457.5 499.5 V564.5 M476.5 499.5 V564.5 M494.5 499.5 V564.5 M512.5 499.5 V564.5 M531.5 499.5 V564.5 M550.5 499.5 V564.5 M569.5 499.5 V564.5 M588.5 499.5 V564.5 M606.5 499.5 V564.5 M625.5 499.5 V564.5 M644.5 499.5 V564.5 M663.5 499.5 V564.5 M681.5 499.5 V564.5 M700.5 499.5 V564.5 M719.5 499.5 V564.5 M738.5 499.5 V564.5 M757.5 499.5 V564.5 M775.5 499.5 V564.5 M794.5 499.5 V564.5 M813.5 499.5 V564.5 M832.5 499.5 V564.5 M850.5 499.5 V564.5 M869.5 499.5 V564.5 M888.5 499.5 V564.5 M907.5 499.5 V564.5 M926.5 499.5 V564.5 M944.5 499.5 V564.5 M963.5 499.5 V564.5 M982.5 499.5 V564.5 M1001.5 499.5 V564.5 " stroke="#d4d4d4" stroke-width="1" stroke-dasharray="2 2" fill="none"/>
<path d="M67.5 502.24 H1016.5 M67.5 521.5 H1016.5 M67.5 540.76 H1016.5 M67.5 560.02 H1016.5 " stroke="#d4d4d4" stroke-width="1" stroke-dasharray="2 2" fill="none"/>
<g clip-path="url(#c_macd)">
<path d="M119.41 514.85 L123.17 516.41 L126.92 517.74 L130.68 518.6 L134.44 518.77 L138.19 518 L141.95 516.18 L145.7 513.59 L149.46 510.65 L153.21 507.75 L156.97 505.3 L160.72 503.61 L164.48 502.59 L168.23 502.07 L171.99 501.86 L175.75 501.8 L179.5 501.75 L183.26 501.77 L187.01 501.96 L190.77 502.44 L194.52 503.3 L198.28 504.61 L202.03 506.21 L205.79 507.93 L209.54 509.55 L213.3 510.9 L220.81 512.37 L228.32 512.74 L235.83 512.78 L243.34 513.27 L250.85 515 L254.61 516.52 L258.36 518.29 L262.12 520.08 L265.87 521.63 L269.63 522.7 L273.39 523.1 L277.14 522.87 L280.9 522.09 L284.65 520.87 L288.41 519.3 L292.16 517.47 L295.92 515.48 L299.67 513.44 L303.43 511.45 L307.18 509.6 L310.94 507.98 L314.69 506.61 L318.45 505.48 L322.21 504.58 L325.96 503.9 L329.72 503.44 L333.47 503.2 L337.23 503.16 L340.98 503.33 L344.74 503.7 L348.49 504.26 L352.25 504.99 L356 505.87 L359.76 506.88 L363.52 508 L367.27 509.2 L371.03 510.42 L374.78 511.58 L378.54 512.63 L382.29 513.5 L386.05 514.14 L389.8 514.6 L393.56 514.98 L397.31 515.35 L401.07 515.8 L404.82 516.39 L408.58 517.08 L412.34 517.83 L416.09 518.59 L419.85 519.3 L423.6 519.93 L427.36 520.48 L431.11 520.98 L434.87 521.44 L438.62 521.9 L442.38 522.37 L446.13 522.88 L449.89 523.47 L453.64 524.16 L457.4 525 L461.16 526.01 L464.91 527.23 L468.67 528.68 L472.42 530.39 L476.18 532.4 L479.78 534.6 L483.37 536.94 L486.97 539.29 L490.57 541.49 L494.17 543.4 L497.93 544.96 L501.68 546.15 L505.44 547.05 L509.19 547.77 L512.95 548.4 L516.7 549.03 L520.46 549.67 L524.21 550.32 L527.97 550.96 L531.73 551.6 L584.3 559.39 L636.88 564.68 L689.45 567 L742.03 565.9 L794.6 560.9 L798.36 560.39 L802.11 559.87 L805.87 559.39 L809.63 558.96 L813.38 558.6 L817.14 558.32 L820.89 558.03 L824.65 557.6 L828.4 556.93 L832.16 555.9 L835.91 554.43 L839.67 552.63 L843.42 550.61 L847.18 548.52 L850.93 546.5 L854.69 544.65 L858.45 542.98 L862.2 541.47 L865.96 540.12 L869.71 538.9 L873.47 537.79 L877.22 536.75 L880.98 535.71 L884.73 534.61 L888.49 533.4 L892.24 532.04 L896 530.59 L899.75 529.11 L903.51 527.69 L907.27 526.4 L914.78 524.34 L922.29 522.73 L929.8 521.21 L937.31 519.42 L944.82 517 L948.58 515.46 L952.33 513.72 L956.09 511.83 L959.84 509.84 L963.6 507.8" fill="none" stroke="#000000" stroke-width="1.05" stroke-linejoin="round"/>
<path d="M117.51 514.85 l1.9 -1.9 l1.9 1.9 l-1.9 1.9 z" fill="#000000"/>
<path d="M136.29 518 l1.9 -1.9 l1.9 1.9 l-1.9 1.9 z" fill="#000000"/>
<path d="M155.07 505.3 l1.9 -1.9 l1.9 1.9 l-1.9 1.9 z" fill="#000000"/>
<path d="M173.84 501.8 l1.9 -1.9 l1.9 1.9 l-1.9 1.9 z" fill="#000000"/>
<path d="M192.62 503.3 l1.9 -1.9 l1.9 1.9 l-1.9 1.9 z" fill="#000000"/>
<path d="M211.4 510.9 l1.9 -1.9 l1.9 1.9 l-1.9 1.9 z" fill="#000000"/>
<path d="M248.95 515 l1.9 -1.9 l1.9 1.9 l-1.9 1.9 z" fill="#000000"/>
<path d="M267.73 522.7 l1.9 -1.9 l1.9 1.9 l-1.9 1.9 z" fill="#000000"/>
<path d="M286.51 519.3 l1.9 -1.9 l1.9 1.9 l-1.9 1.9 z" fill="#000000"/>
<path d="M305.28 509.6 l1.9 -1.9 l1.9 1.9 l-1.9 1.9 z" fill="#000000"/>
<path d="M324.06 503.9 l1.9 -1.9 l1.9 1.9 l-1.9 1.9 z" fill="#000000"/>
<path d="M342.84 503.7 l1.9 -1.9 l1.9 1.9 l-1.9 1.9 z" fill="#000000"/>
<path d="M361.62 508 l1.9 -1.9 l1.9 1.9 l-1.9 1.9 z" fill="#000000"/>
<path d="M380.39 513.5 l1.9 -1.9 l1.9 1.9 l-1.9 1.9 z" fill="#000000"/>
<path d="M399.17 515.8 l1.9 -1.9 l1.9 1.9 l-1.9 1.9 z" fill="#000000"/>
<path d="M417.95 519.3 l1.9 -1.9 l1.9 1.9 l-1.9 1.9 z" fill="#000000"/>
<path d="M436.72 521.9 l1.9 -1.9 l1.9 1.9 l-1.9 1.9 z" fill="#000000"/>
<path d="M455.5 525 l1.9 -1.9 l1.9 1.9 l-1.9 1.9 z" fill="#000000"/>
<path d="M474.28 532.4 l1.9 -1.9 l1.9 1.9 l-1.9 1.9 z" fill="#000000"/>
<path d="M492.27 543.4 l1.9 -1.9 l1.9 1.9 l-1.9 1.9 z" fill="#000000"/>
<path d="M511.05 548.4 l1.9 -1.9 l1.9 1.9 l-1.9 1.9 z" fill="#000000"/>
<path d="M529.83 551.6 l1.9 -1.9 l1.9 1.9 l-1.9 1.9 z" fill="#000000"/>
<path d="M792.7 560.9 l1.9 -1.9 l1.9 1.9 l-1.9 1.9 z" fill="#000000"/>
<path d="M811.48 558.6 l1.9 -1.9 l1.9 1.9 l-1.9 1.9 z" fill="#000000"/>
<path d="M830.26 555.9 l1.9 -1.9 l1.9 1.9 l-1.9 1.9 z" fill="#000000"/>
<path d="M849.03 546.5 l1.9 -1.9 l1.9 1.9 l-1.9 1.9 z" fill="#000000"/>
<path d="M867.81 538.9 l1.9 -1.9 l1.9 1.9 l-1.9 1.9 z" fill="#000000"/>
<path d="M886.59 533.4 l1.9 -1.9 l1.9 1.9 l-1.9 1.9 z" fill="#000000"/>
<path d="M905.37 526.4 l1.9 -1.9 l1.9 1.9 l-1.9 1.9 z" fill="#000000"/>
<path d="M942.92 517 l1.9 -1.9 l1.9 1.9 l-1.9 1.9 z" fill="#000000"/>
<path d="M961.7 507.8 l1.9 -1.9 l1.9 1.9 l-1.9 1.9 z" fill="#000000"/>
<path d="M119.41 518 L123.17 518.33 L126.92 518.59 L130.68 518.71 L134.44 518.6 L138.19 518.2 L141.95 517.46 L145.7 516.46 L149.46 515.3 L153.21 514.08 L156.97 512.9 L160.72 511.84 L164.48 510.9 L168.23 510.07 L171.99 509.31 L175.75 508.6 L179.5 507.94 L183.26 507.35 L187.01 506.89 L190.77 506.59 L194.52 506.5 L198.28 506.64 L202.03 506.95 L205.79 507.37 L209.54 507.81 L213.3 508.2 L220.81 508.67 L228.32 508.91 L235.83 509.18 L243.34 509.76 L250.85 510.9 L254.61 511.75 L258.36 512.73 L262.12 513.75 L265.87 514.73 L269.63 515.6 L273.39 516.28 L277.14 516.76 L280.9 517.04 L284.65 517.12 L288.41 517 L292.16 516.69 L295.92 516.21 L299.67 515.6 L303.43 514.89 L307.18 514.1 L310.94 513.27 L314.69 512.43 L318.45 511.58 L322.21 510.77 L325.96 510 L329.72 509.3 L333.47 508.68 L337.23 508.15 L340.98 507.72 L344.74 507.4 L348.49 507.2 L352.25 507.12 L356 507.16 L359.76 507.32 L363.52 507.6 L367.27 507.99 L371.03 508.46 L374.78 508.98 L378.54 509.51 L382.29 510 L386.05 510.44 L389.8 510.84 L393.56 511.23 L397.31 511.64 L401.07 512.1 L404.82 512.63 L408.58 513.2 L412.34 513.81 L416.09 514.41 L419.85 515 L423.6 515.55 L427.36 516.06 L431.11 516.57 L434.87 517.07 L438.62 517.6 L442.38 518.16 L446.13 518.75 L449.89 519.37 L453.64 520.02 L457.4 520.7 L461.16 521.41 L464.91 522.18 L468.67 523.04 L472.42 524.04 L476.18 525.2 L479.78 526.49 L483.37 527.91 L486.97 529.41 L490.57 530.92 L494.17 532.4 L497.93 533.86 L501.68 535.22 L505.44 536.51 L509.19 537.73 L512.95 538.9 L516.7 540.02 L520.46 541.1 L524.21 542.12 L527.97 543.09 L531.73 544 L584.3 550.9 L636.88 550.6 L689.45 547.7 L742.03 546.2 L794.6 550.6 L798.36 551.3 L802.11 552.02 L805.87 552.72 L809.63 553.36 L813.38 553.9 L817.14 554.31 L820.89 554.57 L824.65 554.69 L828.4 554.67 L832.16 554.5 L835.91 554.18 L839.67 553.72 L843.42 553.13 L847.18 552.42 L850.93 551.6 L854.69 550.68 L858.45 549.68 L862.2 548.63 L865.96 547.56 L869.71 546.5 L873.47 545.46 L877.22 544.44 L880.98 543.4 L884.73 542.33 L888.49 541.2 L892.24 540 L896 538.76 L899.75 537.55 L903.51 536.41 L907.27 535.4 L914.78 533.83 L922.29 532.65 L929.8 531.52 L937.31 530.11 L944.82 528.1 L948.58 526.78 L952.33 525.27 L956.09 523.63 L959.84 521.89 L963.6 520.1" fill="none" stroke="#ff0000" stroke-width="1.05" stroke-linejoin="round"/>
<path d="M117.51 518 l1.9 -1.9 l1.9 1.9 l-1.9 1.9 z" fill="#ff0000"/>
<path d="M136.29 518.2 l1.9 -1.9 l1.9 1.9 l-1.9 1.9 z" fill="#ff0000"/>
<path d="M155.07 512.9 l1.9 -1.9 l1.9 1.9 l-1.9 1.9 z" fill="#ff0000"/>
<path d="M173.84 508.6 l1.9 -1.9 l1.9 1.9 l-1.9 1.9 z" fill="#ff0000"/>
<path d="M192.62 506.5 l1.9 -1.9 l1.9 1.9 l-1.9 1.9 z" fill="#ff0000"/>
<path d="M211.4 508.2 l1.9 -1.9 l1.9 1.9 l-1.9 1.9 z" fill="#ff0000"/>
<path d="M248.95 510.9 l1.9 -1.9 l1.9 1.9 l-1.9 1.9 z" fill="#ff0000"/>
<path d="M267.73 515.6 l1.9 -1.9 l1.9 1.9 l-1.9 1.9 z" fill="#ff0000"/>
<path d="M286.51 517 l1.9 -1.9 l1.9 1.9 l-1.9 1.9 z" fill="#ff0000"/>
<path d="M305.28 514.1 l1.9 -1.9 l1.9 1.9 l-1.9 1.9 z" fill="#ff0000"/>
<path d="M324.06 510 l1.9 -1.9 l1.9 1.9 l-1.9 1.9 z" fill="#ff0000"/>
<path d="M342.84 507.4 l1.9 -1.9 l1.9 1.9 l-1.9 1.9 z" fill="#ff0000"/>
<path d="M361.62 507.6 l1.9 -1.9 l1.9 1.9 l-1.9 1.9 z" fill="#ff0000"/>
<path d="M380.39 510 l1.9 -1.9 l1.9 1.9 l-1.9 1.9 z" fill="#ff0000"/>
<path d="M399.17 512.1 l1.9 -1.9 l1.9 1.9 l-1.9 1.9 z" fill="#ff0000"/>
<path d="M417.95 515 l1.9 -1.9 l1.9 1.9 l-1.9 1.9 z" fill="#ff0000"/>
<path d="M436.72 517.6 l1.9 -1.9 l1.9 1.9 l-1.9 1.9 z" fill="#ff0000"/>
<path d="M455.5 520.7 l1.9 -1.9 l1.9 1.9 l-1.9 1.9 z" fill="#ff0000"/>
<path d="M474.28 525.2 l1.9 -1.9 l1.9 1.9 l-1.9 1.9 z" fill="#ff0000"/>
<path d="M492.27 532.4 l1.9 -1.9 l1.9 1.9 l-1.9 1.9 z" fill="#ff0000"/>
<path d="M511.05 538.9 l1.9 -1.9 l1.9 1.9 l-1.9 1.9 z" fill="#ff0000"/>
<path d="M529.83 544 l1.9 -1.9 l1.9 1.9 l-1.9 1.9 z" fill="#ff0000"/>
<path d="M792.7 550.6 l1.9 -1.9 l1.9 1.9 l-1.9 1.9 z" fill="#ff0000"/>
<path d="M811.48 553.9 l1.9 -1.9 l1.9 1.9 l-1.9 1.9 z" fill="#ff0000"/>
<path d="M830.26 554.5 l1.9 -1.9 l1.9 1.9 l-1.9 1.9 z" fill="#ff0000"/>
<path d="M849.03 551.6 l1.9 -1.9 l1.9 1.9 l-1.9 1.9 z" fill="#ff0000"/>
<path d="M867.81 546.5 l1.9 -1.9 l1.9 1.9 l-1.9 1.9 z" fill="#ff0000"/>
<path d="M886.59 541.2 l1.9 -1.9 l1.9 1.9 l-1.9 1.9 z" fill="#ff0000"/>
<path d="M905.37 535.4 l1.9 -1.9 l1.9 1.9 l-1.9 1.9 z" fill="#ff0000"/>
<path d="M942.92 528.1 l1.9 -1.9 l1.9 1.9 l-1.9 1.9 z" fill="#ff0000"/>
<path d="M961.7 520.1 l1.9 -1.9 l1.9 1.9 l-1.9 1.9 z" fill="#ff0000"/>
<path d="M400.5 499.5 V564.5" stroke="#9494ff" stroke-width="1"/>
<rect x="387.79" y="516.4" width="25" height="11.2" fill="#c0c0c0" fill-opacity="0.75"/>
<text x="387.79" y="524.3" font-size="9" textLength="25" lengthAdjust="spacing">Entry</text>
</g>
<rect x="67.5" y="499.5" width="949.0" height="65.0" fill="none" stroke="#a4a4a4" stroke-width="1"/>
<path d="M65.5 502.24 H67.5" stroke="#a4a4a4" stroke-width="1"/>
<text x="55.4" y="506.94" font-size="10" textLength="6.3" lengthAdjust="spacing">2</text>
<path d="M65.5 521.5 H67.5" stroke="#a4a4a4" stroke-width="1"/>
<text x="55.4" y="526.2" font-size="10" textLength="6.3" lengthAdjust="spacing">0</text>
<path d="M65.5 540.76 H67.5" stroke="#a4a4a4" stroke-width="1"/>
<text x="51.1" y="545.46" font-size="10" textLength="10.6" lengthAdjust="spacing">-2</text>
<path d="M65.5 560.02 H67.5" stroke="#a4a4a4" stroke-width="1"/>
<text x="51.1" y="564.72" font-size="10" textLength="10.6" lengthAdjust="spacing">-4</text>
<text transform="translate(43.2 549.5) rotate(-90)" font-size="12" textLength="35" lengthAdjust="spacing">MACD</text>
<rect x="67.5" y="575.5" width="949.0" height="32.0" fill="#fff"/>
<path d="M81.5 575.5 V607.5 M100.5 575.5 V607.5 M119.5 575.5 V607.5 M138.5 575.5 V607.5 M156.5 575.5 V607.5 M175.5 575.5 V607.5 M194.5 575.5 V607.5 M213.5 575.5 V607.5 M232.5 575.5 V607.5 M250.5 575.5 V607.5 M269.5 575.5 V607.5 M288.5 575.5 V607.5 M307.5 575.5 V607.5 M325.5 575.5 V607.5 M344.5 575.5 V607.5 M363.5 575.5 V607.5 M382.5 575.5 V607.5 M401.5 575.5 V607.5 M419.5 575.5 V607.5 M438.5 575.5 V607.5 M457.5 575.5 V607.5 M476.5 575.5 V607.5 M494.5 575.5 V607.5 M512.5 575.5 V607.5 M531.5 575.5 V607.5 M550.5 575.5 V607.5 M569.5 575.5 V607.5 M588.5 575.5 V607.5 M606.5 575.5 V607.5 M625.5 575.5 V607.5 M644.5 575.5 V607.5 M663.5 575.5 V607.5 M681.5 575.5 V607.5 M700.5 575.5 V607.5 M719.5 575.5 V607.5 M738.5 575.5 V607.5 M757.5 575.5 V607.5 M775.5 575.5 V607.5 M794.5 575.5 V607.5 M813.5 575.5 V607.5 M832.5 575.5 V607.5 M850.5 575.5 V607.5 M869.5 575.5 V607.5 M888.5 575.5 V607.5 M907.5 575.5 V607.5 M926.5 575.5 V607.5 M944.5 575.5 V607.5 M963.5 575.5 V607.5 M982.5 575.5 V607.5 M1001.5 575.5 V607.5 " stroke="#d4d4d4" stroke-width="1" stroke-dasharray="2 2" fill="none"/>
<path d="M67.5 575.5 H1016.5 M67.5 591.5 H1016.5 M67.5 607.5 H1016.5 " stroke="#d4d4d4" stroke-width="1" stroke-dasharray="2 2" fill="none"/>
<g clip-path="url(#c_mfi)">
<path d="M119.41 587.5 L123.17 587.5 L126.92 587.5 L130.68 587.5 L134.44 587.5 L138.19 587.5 L141.95 587.5 L145.7 587.5 L149.46 587.5 L153.21 587.5 L156.97 587.5 L160.72 587.5 L164.48 587.5 L168.23 587.5 L171.99 587.5 L175.75 587.5 L179.5 587.5 L183.26 587.5 L187.01 587.5 L190.77 587.5 L194.52 587.5 L198.28 587.5 L202.03 587.5 L205.79 587.5 L209.54 587.5 L213.3 587.5 L220.81 587.5 L228.32 587.5 L235.83 587.5 L243.34 587.5 L250.85 587.5 L254.61 587.5 L258.36 587.5 L262.12 587.5 L265.87 587.5 L269.63 587.5 L273.39 587.5 L277.14 587.5 L280.9 587.5 L284.65 587.5 L288.41 587.5 L292.16 587.5 L295.92 587.5 L299.67 587.5 L303.43 587.5 L307.18 587.5 L310.94 587.5 L314.69 587.5 L318.45 587.5 L322.21 587.5 L325.96 587.5 L329.72 587.5 L333.47 587.5 L337.23 587.5 L340.98 587.5 L344.74 587.5 L348.49 587.5 L352.25 587.5 L356 587.5 L359.76 587.5 L363.52 587.5 L367.27 587.5 L371.03 587.5 L374.78 587.5 L378.54 587.5 L382.29 587.5 L386.05 587.5 L389.8 587.5 L393.56 587.5 L397.31 587.5 L401.07 587.5 L404.82 587.5 L408.58 587.5 L412.34 587.5 L416.09 587.5 L419.85 587.5 L423.6 587.5 L427.36 587.5 L431.11 587.5 L434.87 587.5 L438.62 587.5 L442.38 587.5 L446.13 587.5 L449.89 587.5 L453.64 587.5 L457.4 587.5 L461.16 587.5 L464.91 587.5 L468.67 587.5 L472.42 587.5 L476.18 587.5 L479.78 587.5 L483.37 587.5 L486.97 587.5 L490.57 587.5 L494.17 587.5 L497.93 587.5 L501.68 587.5 L505.44 587.5 L509.19 587.5 L512.95 587.5 L516.7 587.5 L520.46 587.5 L524.21 587.5 L527.97 587.5 L531.73 587.5 L584.3 587.5 L636.88 587.5 L689.45 587.5 L742.03 587.5 L794.6 587.5 L798.36 587.5 L802.11 587.5 L805.87 587.5 L809.63 587.5 L813.38 587.5 L817.14 587.5 L820.89 587.5 L824.65 587.5 L828.4 587.5 L832.16 587.5 L835.91 587.5 L839.67 587.5 L843.42 587.5 L847.18 587.5 L850.93 587.5 L854.69 587.5 L858.45 587.5 L862.2 587.5 L865.96 587.5 L869.71 587.5 L873.47 587.5 L877.22 587.5 L880.98 587.5 L884.73 587.5 L888.49 587.5 L892.24 587.5 L896 587.5 L899.75 587.5 L903.51 587.5 L907.27 587.5 L914.78 587.5 L922.29 587.5 L929.8 587.5 L937.31 587.5 L944.82 587.5 L948.58 587.5 L952.33 587.5 L956.09 587.5 L959.84 587.5 L963.6 587.5" fill="none" stroke="#000000" stroke-width="1.05" stroke-linejoin="round"/>
<path d="M117.51 587.5 l1.9 -1.9 l1.9 1.9 l-1.9 1.9 z" fill="#000000"/>
<path d="M136.29 587.5 l1.9 -1.9 l1.9 1.9 l-1.9 1.9 z" fill="#000000"/>
<path d="M155.07 587.5 l1.9 -1.9 l1.9 1.9 l-1.9 1.9 z" fill="#000000"/>
<path d="M173.84 587.5 l1.9 -1.9 l1.9 1.9 l-1.9 1.9 z" fill="#000000"/>
<path d="M192.62 587.5 l1.9 -1.9 l1.9 1.9 l-1.9 1.9 z" fill="#000000"/>
<path d="M211.4 587.5 l1.9 -1.9 l1.9 1.9 l-1.9 1.9 z" fill="#000000"/>
<path d="M248.95 587.5 l1.9 -1.9 l1.9 1.9 l-1.9 1.9 z" fill="#000000"/>
<path d="M267.73 587.5 l1.9 -1.9 l1.9 1.9 l-1.9 1.9 z" fill="#000000"/>
<path d="M286.51 587.5 l1.9 -1.9 l1.9 1.9 l-1.9 1.9 z" fill="#000000"/>
<path d="M305.28 587.5 l1.9 -1.9 l1.9 1.9 l-1.9 1.9 z" fill="#000000"/>
<path d="M324.06 587.5 l1.9 -1.9 l1.9 1.9 l-1.9 1.9 z" fill="#000000"/>
<path d="M342.84 587.5 l1.9 -1.9 l1.9 1.9 l-1.9 1.9 z" fill="#000000"/>
<path d="M361.62 587.5 l1.9 -1.9 l1.9 1.9 l-1.9 1.9 z" fill="#000000"/>
<path d="M380.39 587.5 l1.9 -1.9 l1.9 1.9 l-1.9 1.9 z" fill="#000000"/>
<path d="M399.17 587.5 l1.9 -1.9 l1.9 1.9 l-1.9 1.9 z" fill="#000000"/>
<path d="M417.95 587.5 l1.9 -1.9 l1.9 1.9 l-1.9 1.9 z" fill="#000000"/>
<path d="M436.72 587.5 l1.9 -1.9 l1.9 1.9 l-1.9 1.9 z" fill="#000000"/>
<path d="M455.5 587.5 l1.9 -1.9 l1.9 1.9 l-1.9 1.9 z" fill="#000000"/>
<path d="M474.28 587.5 l1.9 -1.9 l1.9 1.9 l-1.9 1.9 z" fill="#000000"/>
<path d="M492.27 587.5 l1.9 -1.9 l1.9 1.9 l-1.9 1.9 z" fill="#000000"/>
<path d="M511.05 587.5 l1.9 -1.9 l1.9 1.9 l-1.9 1.9 z" fill="#000000"/>
<path d="M529.83 587.5 l1.9 -1.9 l1.9 1.9 l-1.9 1.9 z" fill="#000000"/>
<path d="M792.7 587.5 l1.9 -1.9 l1.9 1.9 l-1.9 1.9 z" fill="#000000"/>
<path d="M811.48 587.5 l1.9 -1.9 l1.9 1.9 l-1.9 1.9 z" fill="#000000"/>
<path d="M830.26 587.5 l1.9 -1.9 l1.9 1.9 l-1.9 1.9 z" fill="#000000"/>
<path d="M849.03 587.5 l1.9 -1.9 l1.9 1.9 l-1.9 1.9 z" fill="#000000"/>
<path d="M867.81 587.5 l1.9 -1.9 l1.9 1.9 l-1.9 1.9 z" fill="#000000"/>
<path d="M886.59 587.5 l1.9 -1.9 l1.9 1.9 l-1.9 1.9 z" fill="#000000"/>
<path d="M905.37 587.5 l1.9 -1.9 l1.9 1.9 l-1.9 1.9 z" fill="#000000"/>
<path d="M942.92 587.5 l1.9 -1.9 l1.9 1.9 l-1.9 1.9 z" fill="#000000"/>
<path d="M961.7 587.5 l1.9 -1.9 l1.9 1.9 l-1.9 1.9 z" fill="#000000"/>
<path d="M67.5 581.5 H1016.5" stroke="#9494ff" stroke-width="1"/>
<path d="M67.5 600.5 H1016.5" stroke="#9494ff" stroke-width="1"/>
<rect x="67.5" y="577.1" width="49.3" height="11.3" fill="#c0c0c0" fill-opacity="0.75"/>
<text x="70" y="585" font-size="9" textLength="46" lengthAdjust="spacing">überkauft</text>
<rect x="67.5" y="595.7" width="64.3" height="11.8" fill="#c0c0c0" fill-opacity="0.75"/>
<text x="70" y="603.6" font-size="9" textLength="61" lengthAdjust="spacing">überverkauft</text>
</g>
<rect x="67.5" y="575.5" width="949.0" height="32.0" fill="none" stroke="#a4a4a4" stroke-width="1"/>
<path d="M65.5 575.5 H67.5" stroke="#a4a4a4" stroke-width="1"/>
<text x="42.8" y="580.2" font-size="10" textLength="18.9" lengthAdjust="spacing">100</text>
<path d="M65.5 591.5 H67.5" stroke="#a4a4a4" stroke-width="1"/>
<text x="49.1" y="596.2" font-size="10" textLength="12.6" lengthAdjust="spacing">50</text>
<path d="M65.5 607.5 H67.5" stroke="#a4a4a4" stroke-width="1"/>
<text x="55.4" y="612.2" font-size="10" textLength="6.3" lengthAdjust="spacing">0</text>
<text transform="translate(34.6 602) rotate(-90)" font-size="12" textLength="21" lengthAdjust="spacing">MFI</text>
<rect x="67.5" y="618.5" width="949.0" height="33.0" fill="#fff"/>
<path d="M81.5 618.5 V651.5 M100.5 618.5 V651.5 M119.5 618.5 V651.5 M138.5 618.5 V651.5 M156.5 618.5 V651.5 M175.5 618.5 V651.5 M194.5 618.5 V651.5 M213.5 618.5 V651.5 M232.5 618.5 V651.5 M250.5 618.5 V651.5 M269.5 618.5 V651.5 M288.5 618.5 V651.5 M307.5 618.5 V651.5 M325.5 618.5 V651.5 M344.5 618.5 V651.5 M363.5 618.5 V651.5 M382.5 618.5 V651.5 M401.5 618.5 V651.5 M419.5 618.5 V651.5 M438.5 618.5 V651.5 M457.5 618.5 V651.5 M476.5 618.5 V651.5 M494.5 618.5 V651.5 M512.5 618.5 V651.5 M531.5 618.5 V651.5 M550.5 618.5 V651.5 M569.5 618.5 V651.5 M588.5 618.5 V651.5 M606.5 618.5 V651.5 M625.5 618.5 V651.5 M644.5 618.5 V651.5 M663.5 618.5 V651.5 M681.5 618.5 V651.5 M700.5 618.5 V651.5 M719.5 618.5 V651.5 M738.5 618.5 V651.5 M757.5 618.5 V651.5 M775.5 618.5 V651.5 M794.5 618.5 V651.5 M813.5 618.5 V651.5 M832.5 618.5 V651.5 M850.5 618.5 V651.5 M869.5 618.5 V651.5 M888.5 618.5 V651.5 M907.5 618.5 V651.5 M926.5 618.5 V651.5 M944.5 618.5 V651.5 M963.5 618.5 V651.5 M982.5 618.5 V651.5 M1001.5 618.5 V651.5 " stroke="#d4d4d4" stroke-width="1" stroke-dasharray="2 2" fill="none"/>
<path d="M67.5 620.7 H1016.5 M67.5 641.4 H1016.5 " stroke="#d4d4d4" stroke-width="1" stroke-dasharray="2 2" fill="none"/>
<g clip-path="url(#c_obv)">
<path d="M119.41 625 L123.17 626.65 L126.92 628.07 L130.68 629.03 L134.44 629.32 L138.19 628.7 L141.95 627.07 L145.7 624.8 L149.46 622.38 L153.21 620.32 L156.97 619.1 L160.72 619.08 L164.48 620 L168.23 621.49 L171.99 623.15 L175.75 624.6 L179.5 625.54 L183.26 626.08 L187.01 626.41 L190.77 626.75 L194.52 627.3 L198.28 628.19 L202.03 629.32 L205.79 630.51 L209.54 631.59 L213.3 632.4 L220.81 632.82 L228.32 632.07 L235.83 630.78 L243.34 629.58 L250.85 629.1 L254.61 629.29 L258.36 629.69 L262.12 630.17 L265.87 630.58 L269.63 630.8 L273.39 630.73 L277.14 630.42 L280.9 629.96 L284.65 629.42 L288.41 628.9 L292.16 628.45 L295.92 628.07 L299.67 627.7 L303.43 627.33 L307.18 626.9 L310.94 626.4 L314.69 625.88 L318.45 625.4 L322.21 625.01 L325.96 624.8 L329.72 624.8 L333.47 624.98 L337.23 625.3 L340.98 625.73 L344.74 626.2 L348.49 626.69 L352.25 627.17 L356 627.64 L359.76 628.09 L363.52 628.5 L367.27 628.86 L371.03 629.15 L374.78 629.33 L378.54 629.39 L382.29 629.3 L386.05 629.04 L389.8 628.69 L393.56 628.33 L397.31 628.04 L401.07 627.9 L404.82 627.98 L408.58 628.23 L412.34 628.58 L416.09 628.96 L419.85 629.3 L423.6 629.56 L427.36 629.77 L431.11 630.01 L434.87 630.33 L438.62 630.8 L442.38 631.45 L446.13 632.22 L449.89 633 L453.64 633.69 L457.4 634.2 L461.16 634.47 L464.91 634.63 L468.67 634.87 L472.42 635.36 L476.18 636.3 L479.78 637.71 L483.37 639.43 L486.97 641.2 L490.57 642.78 L494.17 643.9 L497.93 644.39 L501.68 644.35 L505.44 644.03 L509.19 643.66 L512.95 643.5 L516.7 643.73 L520.46 644.32 L524.21 645.16 L527.97 646.17 L531.73 647.25 L584.3 659.59 L636.88 666.22 L689.45 666.9 L742.03 661.38 L794.6 649.4 L798.36 648.31 L802.11 647.27 L805.87 646.4 L809.63 645.78 L813.38 645.5 L817.14 645.62 L820.89 646.02 L824.65 646.51 L828.4 646.93 L832.16 647.1 L835.91 646.9 L839.67 646.39 L843.42 645.68 L847.18 644.88 L850.93 644.1 L854.69 643.42 L858.45 642.82 L862.2 642.25 L865.96 641.66 L869.71 641 L873.47 640.24 L877.22 639.4 L880.98 638.53 L884.73 637.68 L888.49 636.9 L892.24 636.22 L896 635.64 L899.75 635.15 L903.51 634.74 L907.27 634.4 L914.78 633.88 L922.29 633.46 L929.8 633.01 L937.31 632.36 L944.82 631.4 L948.58 630.76 L952.33 630.03 L956.09 629.22 L959.84 628.37 L963.6 627.5" fill="none" stroke="#000000" stroke-width="1.05" stroke-linejoin="round"/>
<path d="M117.51 625 l1.9 -1.9 l1.9 1.9 l-1.9 1.9 z" fill="#000000"/>
<path d="M136.29 628.7 l1.9 -1.9 l1.9 1.9 l-1.9 1.9 z" fill="#000000"/>
<path d="M155.07 619.1 l1.9 -1.9 l1.9 1.9 l-1.9 1.9 z" fill="#000000"/>
<path d="M173.84 624.6 l1.9 -1.9 l1.9 1.9 l-1.9 1.9 z" fill="#000000"/>
<path d="M192.62 627.3 l1.9 -1.9 l1.9 1.9 l-1.9 1.9 z" fill="#000000"/>
<path d="M211.4 632.4 l1.9 -1.9 l1.9 1.9 l-1.9 1.9 z" fill="#000000"/>
<path d="M248.95 629.1 l1.9 -1.9 l1.9 1.9 l-1.9 1.9 z" fill="#000000"/>
<path d="M267.73 630.8 l1.9 -1.9 l1.9 1.9 l-1.9 1.9 z" fill="#000000"/>
<path d="M286.51 628.9 l1.9 -1.9 l1.9 1.9 l-1.9 1.9 z" fill="#000000"/>
<path d="M305.28 626.9 l1.9 -1.9 l1.9 1.9 l-1.9 1.9 z" fill="#000000"/>
<path d="M324.06 624.8 l1.9 -1.9 l1.9 1.9 l-1.9 1.9 z" fill="#000000"/>
<path d="M342.84 626.2 l1.9 -1.9 l1.9 1.9 l-1.9 1.9 z" fill="#000000"/>
<path d="M361.62 628.5 l1.9 -1.9 l1.9 1.9 l-1.9 1.9 z" fill="#000000"/>
<path d="M380.39 629.3 l1.9 -1.9 l1.9 1.9 l-1.9 1.9 z" fill="#000000"/>
<path d="M399.17 627.9 l1.9 -1.9 l1.9 1.9 l-1.9 1.9 z" fill="#000000"/>
<path d="M417.95 629.3 l1.9 -1.9 l1.9 1.9 l-1.9 1.9 z" fill="#000000"/>
<path d="M436.72 630.8 l1.9 -1.9 l1.9 1.9 l-1.9 1.9 z" fill="#000000"/>
<path d="M455.5 634.2 l1.9 -1.9 l1.9 1.9 l-1.9 1.9 z" fill="#000000"/>
<path d="M474.28 636.3 l1.9 -1.9 l1.9 1.9 l-1.9 1.9 z" fill="#000000"/>
<path d="M492.27 643.9 l1.9 -1.9 l1.9 1.9 l-1.9 1.9 z" fill="#000000"/>
<path d="M511.05 643.5 l1.9 -1.9 l1.9 1.9 l-1.9 1.9 z" fill="#000000"/>
<path d="M529.83 647.25 l1.9 -1.9 l1.9 1.9 l-1.9 1.9 z" fill="#000000"/>
<path d="M792.7 649.4 l1.9 -1.9 l1.9 1.9 l-1.9 1.9 z" fill="#000000"/>
<path d="M811.48 645.5 l1.9 -1.9 l1.9 1.9 l-1.9 1.9 z" fill="#000000"/>
<path d="M830.26 647.1 l1.9 -1.9 l1.9 1.9 l-1.9 1.9 z" fill="#000000"/>
<path d="M849.03 644.1 l1.9 -1.9 l1.9 1.9 l-1.9 1.9 z" fill="#000000"/>
<path d="M867.81 641 l1.9 -1.9 l1.9 1.9 l-1.9 1.9 z" fill="#000000"/>
<path d="M886.59 636.9 l1.9 -1.9 l1.9 1.9 l-1.9 1.9 z" fill="#000000"/>
<path d="M905.37 634.4 l1.9 -1.9 l1.9 1.9 l-1.9 1.9 z" fill="#000000"/>
<path d="M942.92 631.4 l1.9 -1.9 l1.9 1.9 l-1.9 1.9 z" fill="#000000"/>
<path d="M961.7 627.5 l1.9 -1.9 l1.9 1.9 l-1.9 1.9 z" fill="#000000"/>
<path d="M400.5 618.5 V651.5" stroke="#9494ff" stroke-width="1"/>
<path d="M437.5 618.5 V651.5" stroke="#9494ff" stroke-width="1"/>
<rect x="387.79" y="635" width="25" height="11.2" fill="#c0c0c0" fill-opacity="0.75"/>
<text x="387.79" y="642.9" font-size="9" textLength="25" lengthAdjust="spacing">Entry</text>
<rect x="428.84" y="649.6" width="18" height="11.2" fill="#c0c0c0" fill-opacity="0.75"/>
<text x="428.84" y="657.5" font-size="9" textLength="18" lengthAdjust="spacing">Exit</text>
</g>
<rect x="67.5" y="618.5" width="949.0" height="33.0" fill="none" stroke="#a4a4a4" stroke-width="1"/>
<path d="M65.5 620.7 H67.5" stroke="#a4a4a4" stroke-width="1"/>
<text x="30.2" y="625.4" font-size="10" textLength="31.5" lengthAdjust="spacing">40000</text>
<path d="M65.5 641.4 H67.5" stroke="#a4a4a4" stroke-width="1"/>
<text x="30.2" y="646.1" font-size="10" textLength="31.5" lengthAdjust="spacing">20000</text>
<text transform="translate(23 647.5) rotate(-90)" font-size="12" textLength="25" lengthAdjust="spacing">OBV</text>
<path d="M81.5 651.5 V653.5" stroke="#a4a4a4" stroke-width="1"/>
<text transform="translate(85.5 698.7) rotate(-90)" font-size="10" textLength="44.5" lengthAdjust="spacing">27-02-25</text>
<path d="M100.5 651.5 V653.5" stroke="#a4a4a4" stroke-width="1"/>
<text transform="translate(104.5 698.7) rotate(-90)" font-size="10" textLength="44.5" lengthAdjust="spacing">28-02-25</text>
<path d="M119.5 651.5 V653.5" stroke="#a4a4a4" stroke-width="1"/>
<text transform="translate(123.5 698.7) rotate(-90)" font-size="10" textLength="44.5" lengthAdjust="spacing">03-03-25</text>
<path d="M138.5 651.5 V653.5" stroke="#a4a4a4" stroke-width="1"/>
<text transform="translate(142.5 698.7) rotate(-90)" font-size="10" textLength="44.5" lengthAdjust="spacing">04-03-25</text>
<path d="M156.5 651.5 V653.5" stroke="#a4a4a4" stroke-width="1"/>
<text transform="translate(160.5 698.7) rotate(-90)" font-size="10" textLength="44.5" lengthAdjust="spacing">05-03-25</text>
<path d="M175.5 651.5 V653.5" stroke="#a4a4a4" stroke-width="1"/>
<text transform="translate(179.5 698.7) rotate(-90)" font-size="10" textLength="44.5" lengthAdjust="spacing">06-03-25</text>
<path d="M194.5 651.5 V653.5" stroke="#a4a4a4" stroke-width="1"/>
<text transform="translate(198.5 698.7) rotate(-90)" font-size="10" textLength="44.5" lengthAdjust="spacing">07-03-25</text>
<path d="M213.5 651.5 V653.5" stroke="#a4a4a4" stroke-width="1"/>
<text transform="translate(217.5 698.7) rotate(-90)" font-size="10" textLength="44.5" lengthAdjust="spacing">10-03-25</text>
<path d="M232.5 651.5 V653.5" stroke="#a4a4a4" stroke-width="1"/>
<text transform="translate(236.5 698.7) rotate(-90)" font-size="10" textLength="44.5" lengthAdjust="spacing">11-03-25</text>
<path d="M250.5 651.5 V653.5" stroke="#a4a4a4" stroke-width="1"/>
<text transform="translate(254.5 698.7) rotate(-90)" font-size="10" textLength="44.5" lengthAdjust="spacing">12-03-25</text>
<path d="M269.5 651.5 V653.5" stroke="#a4a4a4" stroke-width="1"/>
<text transform="translate(273.5 698.7) rotate(-90)" font-size="10" textLength="44.5" lengthAdjust="spacing">13-03-25</text>
<path d="M288.5 651.5 V653.5" stroke="#a4a4a4" stroke-width="1"/>
<text transform="translate(292.5 698.7) rotate(-90)" font-size="10" textLength="44.5" lengthAdjust="spacing">14-03-25</text>
<path d="M307.5 651.5 V653.5" stroke="#a4a4a4" stroke-width="1"/>
<text transform="translate(311.5 698.7) rotate(-90)" font-size="10" textLength="44.5" lengthAdjust="spacing">17-03-25</text>
<path d="M325.5 651.5 V653.5" stroke="#a4a4a4" stroke-width="1"/>
<text transform="translate(329.5 698.7) rotate(-90)" font-size="10" textLength="44.5" lengthAdjust="spacing">18-03-25</text>
<path d="M344.5 651.5 V653.5" stroke="#a4a4a4" stroke-width="1"/>
<text transform="translate(348.5 698.7) rotate(-90)" font-size="10" textLength="44.5" lengthAdjust="spacing">19-03-25</text>
<path d="M363.5 651.5 V653.5" stroke="#a4a4a4" stroke-width="1"/>
<text transform="translate(367.5 698.7) rotate(-90)" font-size="10" textLength="44.5" lengthAdjust="spacing">20-03-25</text>
<path d="M382.5 651.5 V653.5" stroke="#a4a4a4" stroke-width="1"/>
<text transform="translate(386.5 698.7) rotate(-90)" font-size="10" textLength="44.5" lengthAdjust="spacing">21-03-25</text>
<path d="M401.5 651.5 V653.5" stroke="#a4a4a4" stroke-width="1"/>
<text transform="translate(405.5 698.7) rotate(-90)" font-size="10" textLength="44.5" lengthAdjust="spacing">24-03-25</text>
<path d="M419.5 651.5 V653.5" stroke="#a4a4a4" stroke-width="1"/>
<text transform="translate(423.5 698.7) rotate(-90)" font-size="10" textLength="44.5" lengthAdjust="spacing">25-03-25</text>
<path d="M438.5 651.5 V653.5" stroke="#a4a4a4" stroke-width="1"/>
<text transform="translate(442.5 698.7) rotate(-90)" font-size="10" textLength="44.5" lengthAdjust="spacing">26-03-25</text>
<path d="M457.5 651.5 V653.5" stroke="#a4a4a4" stroke-width="1"/>
<text transform="translate(461.5 698.7) rotate(-90)" font-size="10" textLength="44.5" lengthAdjust="spacing">27-03-25</text>
<path d="M476.5 651.5 V653.5" stroke="#a4a4a4" stroke-width="1"/>
<text transform="translate(480.5 698.7) rotate(-90)" font-size="10" textLength="44.5" lengthAdjust="spacing">28-03-25</text>
<path d="M494.5 651.5 V653.5" stroke="#a4a4a4" stroke-width="1"/>
<text transform="translate(498.5 698.7) rotate(-90)" font-size="10" textLength="44.5" lengthAdjust="spacing">31-03-25</text>
<path d="M512.5 651.5 V653.5" stroke="#a4a4a4" stroke-width="1"/>
<text transform="translate(516.5 698.7) rotate(-90)" font-size="10" textLength="44.5" lengthAdjust="spacing">01-04-25</text>
<path d="M531.5 651.5 V653.5" stroke="#a4a4a4" stroke-width="1"/>
<text transform="translate(535.5 698.7) rotate(-90)" font-size="10" textLength="44.5" lengthAdjust="spacing">02-04-25</text>
<path d="M550.5 651.5 V653.5" stroke="#a4a4a4" stroke-width="1"/>
<text transform="translate(554.5 698.7) rotate(-90)" font-size="10" textLength="44.5" lengthAdjust="spacing">03-04-25</text>
<path d="M569.5 651.5 V653.5" stroke="#a4a4a4" stroke-width="1"/>
<text transform="translate(573.5 698.7) rotate(-90)" font-size="10" textLength="44.5" lengthAdjust="spacing">04-04-25</text>
<path d="M588.5 651.5 V653.5" stroke="#a4a4a4" stroke-width="1"/>
<text transform="translate(592.5 698.7) rotate(-90)" font-size="10" textLength="44.5" lengthAdjust="spacing">07-04-25</text>
<path d="M606.5 651.5 V653.5" stroke="#a4a4a4" stroke-width="1"/>
<text transform="translate(610.5 698.7) rotate(-90)" font-size="10" textLength="44.5" lengthAdjust="spacing">08-04-25</text>
<path d="M625.5 651.5 V653.5" stroke="#a4a4a4" stroke-width="1"/>
<text transform="translate(629.5 698.7) rotate(-90)" font-size="10" textLength="44.5" lengthAdjust="spacing">09-04-25</text>
<path d="M644.5 651.5 V653.5" stroke="#a4a4a4" stroke-width="1"/>
<text transform="translate(648.5 698.7) rotate(-90)" font-size="10" textLength="44.5" lengthAdjust="spacing">10-04-25</text>
<path d="M663.5 651.5 V653.5" stroke="#a4a4a4" stroke-width="1"/>
<text transform="translate(667.5 698.7) rotate(-90)" font-size="10" textLength="44.5" lengthAdjust="spacing">11-04-25</text>
<path d="M681.5 651.5 V653.5" stroke="#a4a4a4" stroke-width="1"/>
<text transform="translate(685.5 698.7) rotate(-90)" font-size="10" textLength="44.5" lengthAdjust="spacing">14-04-25</text>
<path d="M700.5 651.5 V653.5" stroke="#a4a4a4" stroke-width="1"/>
<text transform="translate(704.5 698.7) rotate(-90)" font-size="10" textLength="44.5" lengthAdjust="spacing">15-04-25</text>
<path d="M719.5 651.5 V653.5" stroke="#a4a4a4" stroke-width="1"/>
<text transform="translate(723.5 698.7) rotate(-90)" font-size="10" textLength="44.5" lengthAdjust="spacing">16-04-25</text>
<path d="M738.5 651.5 V653.5" stroke="#a4a4a4" stroke-width="1"/>
<text transform="translate(742.5 698.7) rotate(-90)" font-size="10" textLength="44.5" lengthAdjust="spacing">17-04-25</text>
<path d="M757.5 651.5 V653.5" stroke="#a4a4a4" stroke-width="1"/>
<text transform="translate(761.5 698.7) rotate(-90)" font-size="10" textLength="44.5" lengthAdjust="spacing">18-04-25</text>
<path d="M775.5 651.5 V653.5" stroke="#a4a4a4" stroke-width="1"/>
<text transform="translate(779.5 698.7) rotate(-90)" font-size="10" textLength="44.5" lengthAdjust="spacing">21-04-25</text>
<path d="M794.5 651.5 V653.5" stroke="#a4a4a4" stroke-width="1"/>
<text transform="translate(798.5 698.7) rotate(-90)" font-size="10" textLength="44.5" lengthAdjust="spacing">22-04-25</text>
<path d="M813.5 651.5 V653.5" stroke="#a4a4a4" stroke-width="1"/>
<text transform="translate(817.5 698.7) rotate(-90)" font-size="10" textLength="44.5" lengthAdjust="spacing">23-04-25</text>
<path d="M832.5 651.5 V653.5" stroke="#a4a4a4" stroke-width="1"/>
<text transform="translate(836.5 698.7) rotate(-90)" font-size="10" textLength="44.5" lengthAdjust="spacing">24-04-25</text>
<path d="M850.5 651.5 V653.5" stroke="#a4a4a4" stroke-width="1"/>
<text transform="translate(854.5 698.7) rotate(-90)" font-size="10" textLength="44.5" lengthAdjust="spacing">25-04-25</text>
<path d="M869.5 651.5 V653.5" stroke="#a4a4a4" stroke-width="1"/>
<text transform="translate(873.5 698.7) rotate(-90)" font-size="10" textLength="44.5" lengthAdjust="spacing">28-04-25</text>
<path d="M888.5 651.5 V653.5" stroke="#a4a4a4" stroke-width="1"/>
<text transform="translate(892.5 698.7) rotate(-90)" font-size="10" textLength="44.5" lengthAdjust="spacing">29-04-25</text>
<path d="M907.5 651.5 V653.5" stroke="#a4a4a4" stroke-width="1"/>
<text transform="translate(911.5 698.7) rotate(-90)" font-size="10" textLength="44.5" lengthAdjust="spacing">30-04-25</text>
<path d="M926.5 651.5 V653.5" stroke="#a4a4a4" stroke-width="1"/>
<text transform="translate(930.5 698.7) rotate(-90)" font-size="10" textLength="44.5" lengthAdjust="spacing">01-05-25</text>
<path d="M944.5 651.5 V653.5" stroke="#a4a4a4" stroke-width="1"/>
<text transform="translate(948.5 698.7) rotate(-90)" font-size="10" textLength="44.5" lengthAdjust="spacing">02-05-25</text>
<path d="M963.5 651.5 V653.5" stroke="#a4a4a4" stroke-width="1"/>
<text transform="translate(967.5 698.7) rotate(-90)" font-size="10" textLength="44.5" lengthAdjust="spacing">05-05-25</text>
<path d="M982.5 651.5 V653.5" stroke="#a4a4a4" stroke-width="1"/>
<text transform="translate(986.5 698.7) rotate(-90)" font-size="10" textLength="44.5" lengthAdjust="spacing">06-05-25</text>
<path d="M1001.5 651.5 V653.5" stroke="#a4a4a4" stroke-width="1"/>
<text transform="translate(1005.5 698.7) rotate(-90)" font-size="10" textLength="44.5" lengthAdjust="spacing">07-05-25</text>
<text x="542" y="714" text-anchor="middle" font-size="12">Date</text>
<rect x="1" y="724.8" width="1022" height="42" fill="#fff"/>
<rect x="4.2" y="731.5" width="8" height="8" fill="#ff5555"/>
<text x="15.7" y="738.7" font-size="12" textLength="75.5" lengthAdjust="spacing">Price in EUR</text>
<path d="M96.5 735.6 H111" stroke="#0000ff" stroke-width="1.3" stroke-linecap="square"/>
<text x="114.6" y="738.7" font-size="12" textLength="36" lengthAdjust="spacing">BB-up</text>
<path d="M156.8 735.6 H171.3" stroke="#0000ff" stroke-width="1.3" stroke-linecap="square"/>
<text x="175" y="738.7" font-size="12" textLength="53" lengthAdjust="spacing">BB-down</text>
<path d="M233.3 735.6 H247.8" stroke="#00ff00" stroke-width="1.3" stroke-linecap="square"/>
<text x="251.7" y="738.7" font-size="12" textLength="66" lengthAdjust="spacing">BB-SMA-20</text>
<path d="M323.5 735.6 H338" stroke="#ffafaf" stroke-width="1.3" stroke-linecap="square"/>
<text x="342" y="738.7" font-size="12" textLength="52" lengthAdjust="spacing">SMA(50)</text>
<path d="M399.6 735.6 H414.1" stroke="#00ffff" stroke-width="1.3" stroke-linecap="square"/>
<text x="417.7" y="738.7" font-size="12" textLength="60" lengthAdjust="spacing">SMA(200)</text>
<rect x="484.2" y="730.4" width="5.6" height="10.6" fill="#5555ff"/>
<text x="493.7" y="738.7" font-size="12" textLength="46.2" lengthAdjust="spacing">Volume</text>
<rect x="545.8" y="730.4" width="5.6" height="10.6" fill="#55ff55"/>
<text x="555.8" y="738.7" font-size="12" textLength="23" lengthAdjust="spacing">ATR</text>
<path d="M584.6 735.6 H599.1" stroke="#ff0000" stroke-width="1.3" stroke-linecap="square"/>
<circle cx="591.85" cy="735.6" r="1.35" fill="#ff0000"/>
<text x="602.9" y="738.7" font-size="12" textLength="25" lengthAdjust="spacing">ADX</text>
<path d="M635 735.6 H649.5" stroke="#0000ff" stroke-width="1.3" stroke-linecap="square"/>
<circle cx="642.25" cy="735.6" r="1.35" fill="#0000ff"/>
<text x="653" y="738.7" font-size="12" textLength="58" lengthAdjust="spacing">ADX/DM+</text>
<path d="M718 735.6 H732.5" stroke="#000" stroke-width="1.3" stroke-linecap="square"/>
<circle cx="725.25" cy="735.6" r="1.35" fill="#000"/>
<text x="736" y="738.7" font-size="12" textLength="54.5" lengthAdjust="spacing">ADX/DM-</text>
<path d="M794.4 735.6 H808.9" stroke="#000" stroke-width="1.3" stroke-linecap="square"/>
<circle cx="801.65" cy="735.6" r="1.35" fill="#000"/>
<text x="812.4" y="738.7" font-size="12" textLength="39.4" lengthAdjust="spacing">RSI 14</text>
<path d="M857.5 735.6 H872" stroke="#ff0000" stroke-width="1.3" stroke-linecap="square"/>
<circle cx="864.75" cy="735.6" r="1.35" fill="#ff0000"/>
<text x="875.7" y="738.7" font-size="12" textLength="32" lengthAdjust="spacing">RSI 5</text>
<path d="M912.5 735.6 H927" stroke="#000" stroke-width="1.3" stroke-linecap="square"/>
<circle cx="919.75" cy="735.6" r="1.35" fill="#000"/>
<text x="930.7" y="738.7" font-size="12" textLength="73" lengthAdjust="spacing">MACD(5,13)</text>
<path d="M3.7 756.6 H18.2" stroke="#ff0000" stroke-width="1.3" stroke-linecap="square"/>
<circle cx="10.95" cy="756.6" r="1.35" fill="#ff0000"/>
<text x="21.7" y="760" font-size="12" textLength="91.5" lengthAdjust="spacing">MACDSignal(4)</text>
<path d="M118 756.6 H132.5" stroke="#000" stroke-width="1.3" stroke-linecap="square"/>
<circle cx="125.25" cy="756.6" r="1.35" fill="#000"/>
<text x="136.9" y="760" font-size="12" textLength="109" lengthAdjust="spacing">Money Flow Index</text>
<path d="M251.3 756.6 H265.8" stroke="#000" stroke-width="1.3" stroke-linecap="square"/>
<circle cx="258.55" cy="756.6" r="1.35" fill="#000"/>
<text x="269.8" y="760" font-size="12" textLength="25" lengthAdjust="spacing">OBV</text>
<path d="M300.4 756.6 H310" stroke="#000" stroke-width="1.3" stroke-linecap="square"/>
<text x="313.9" y="760" font-size="12" textLength="93.8" lengthAdjust="spacing">Trend(3,30,60)</text>
</svg>
</body></html>
